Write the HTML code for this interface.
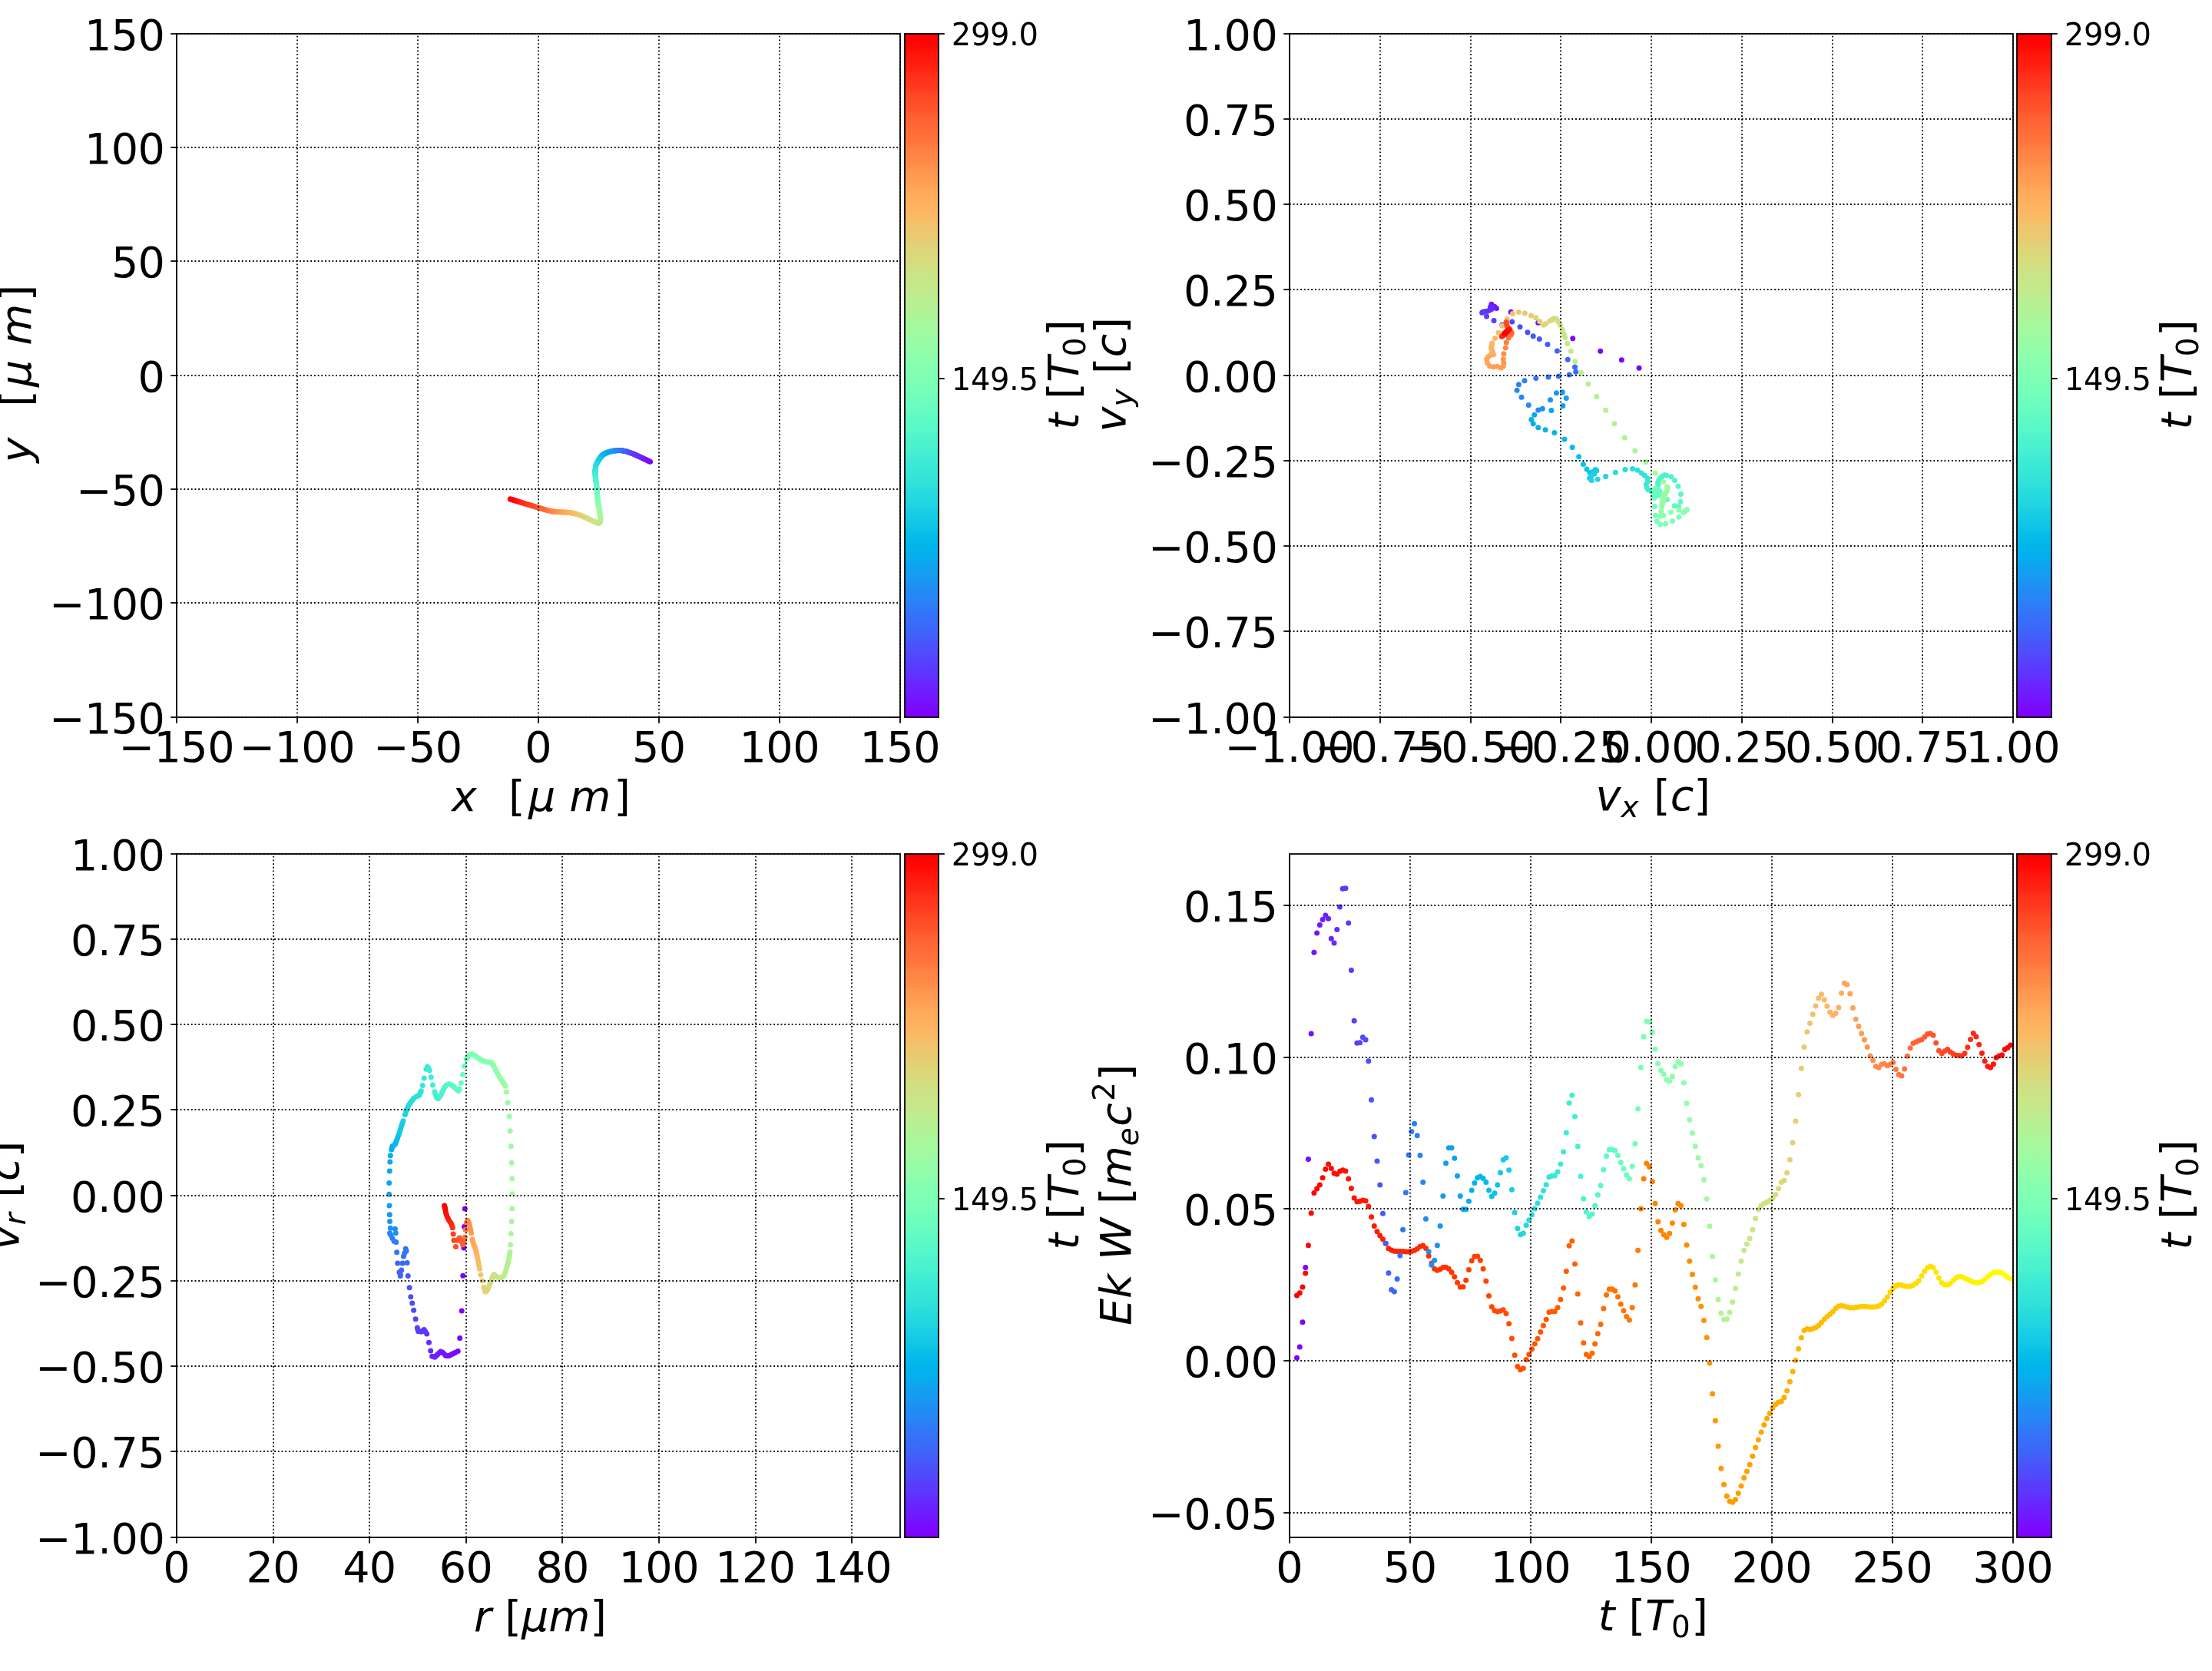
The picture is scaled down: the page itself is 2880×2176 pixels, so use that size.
<!DOCTYPE html>
<html lang="en"><head><meta charset="utf-8"><title>particle trajectory</title>
<style>html,body{margin:0;padding:0;background:#fff}svg{display:block;will-change:transform}text{font-family:'DejaVu Sans', 'Liberation Sans', sans-serif;fill:#000}</style>
</head><body>
<svg width="2880" height="2176" viewBox="0 0 2880 2176">
<rect width="2880" height="2176" fill="#fff"/>
<defs><linearGradient id="rb" x1="0" y1="1" x2="0" y2="0">
<stop offset="0" stop-color="#8000ff"/>
<stop offset="0.02" stop-color="#780dff"/>
<stop offset="0.03" stop-color="#7019ff"/>
<stop offset="0.05" stop-color="#6826fe"/>
<stop offset="0.06" stop-color="#6032fe"/>
<stop offset="0.08" stop-color="#583efd"/>
<stop offset="0.09" stop-color="#504afc"/>
<stop offset="0.11" stop-color="#4856fb"/>
<stop offset="0.12" stop-color="#4062fa"/>
<stop offset="0.14" stop-color="#386df9"/>
<stop offset="0.16" stop-color="#3079f7"/>
<stop offset="0.17" stop-color="#2884f6"/>
<stop offset="0.19" stop-color="#208ef4"/>
<stop offset="0.2" stop-color="#1898f2"/>
<stop offset="0.22" stop-color="#10a2f0"/>
<stop offset="0.23" stop-color="#08acee"/>
<stop offset="0.25" stop-color="#00b5eb"/>
<stop offset="0.27" stop-color="#08bee9"/>
<stop offset="0.28" stop-color="#10c6e6"/>
<stop offset="0.3" stop-color="#18cde4"/>
<stop offset="0.31" stop-color="#20d5e1"/>
<stop offset="0.33" stop-color="#28dbde"/>
<stop offset="0.34" stop-color="#30e1da"/>
<stop offset="0.36" stop-color="#38e7d7"/>
<stop offset="0.38" stop-color="#40ecd4"/>
<stop offset="0.39" stop-color="#48f1d0"/>
<stop offset="0.41" stop-color="#50f4cc"/>
<stop offset="0.42" stop-color="#58f8c9"/>
<stop offset="0.44" stop-color="#60fac5"/>
<stop offset="0.45" stop-color="#68fcc1"/>
<stop offset="0.47" stop-color="#70febc"/>
<stop offset="0.48" stop-color="#78ffb8"/>
<stop offset="0.5" stop-color="#80ffb4"/>
<stop offset="0.52" stop-color="#88ffaf"/>
<stop offset="0.53" stop-color="#90feab"/>
<stop offset="0.55" stop-color="#99fca6"/>
<stop offset="0.56" stop-color="#a0faa1"/>
<stop offset="0.58" stop-color="#a8f79c"/>
<stop offset="0.59" stop-color="#b0f397"/>
<stop offset="0.61" stop-color="#b9ef92"/>
<stop offset="0.62" stop-color="#c0eb8d"/>
<stop offset="0.64" stop-color="#c8e688"/>
<stop offset="0.66" stop-color="#d0e082"/>
<stop offset="0.67" stop-color="#d9da7d"/>
<stop offset="0.69" stop-color="#e0d377"/>
<stop offset="0.7" stop-color="#e8cb72"/>
<stop offset="0.72" stop-color="#f0c46c"/>
<stop offset="0.73" stop-color="#f9bb66"/>
<stop offset="0.75" stop-color="#ffb360"/>
<stop offset="0.77" stop-color="#ffa95b"/>
<stop offset="0.78" stop-color="#ffa055"/>
<stop offset="0.8" stop-color="#ff964f"/>
<stop offset="0.81" stop-color="#ff8c49"/>
<stop offset="0.83" stop-color="#ff8143"/>
<stop offset="0.84" stop-color="#ff763d"/>
<stop offset="0.86" stop-color="#ff6b37"/>
<stop offset="0.88" stop-color="#ff5f30"/>
<stop offset="0.89" stop-color="#ff532a"/>
<stop offset="0.91" stop-color="#ff4724"/>
<stop offset="0.92" stop-color="#ff3b1e"/>
<stop offset="0.94" stop-color="#ff2f18"/>
<stop offset="0.95" stop-color="#ff2211"/>
<stop offset="0.97" stop-color="#ff160b"/>
<stop offset="0.98" stop-color="#ff0905"/>
<stop offset="1" stop-color="#ff0000"/>
</linearGradient>
<clipPath id="c1"><rect x="230" y="44" width="942" height="890"/></clipPath>
<clipPath id="c2"><rect x="1679" y="44" width="942" height="890"/></clipPath>
<clipPath id="c3"><rect x="230" y="1112" width="942" height="890"/></clipPath>
<clipPath id="c4"><rect x="1679" y="1112" width="942" height="890"/></clipPath>
</defs>
<g clip-path="url(#c1)">
<circle cx="846.53" cy="601.31" r="3.5" fill="#8000ff"/>
<circle cx="845.27" cy="600.7" r="3.5" fill="#7e03ff"/>
<circle cx="844" cy="600.09" r="3.5" fill="#7c06ff"/>
<circle cx="842.74" cy="599.48" r="3.5" fill="#7a09ff"/>
<circle cx="841.47" cy="598.87" r="3.5" fill="#780dff"/>
<circle cx="840.21" cy="598.26" r="3.5" fill="#7610ff"/>
<circle cx="838.95" cy="597.65" r="3.5" fill="#7413ff"/>
<circle cx="837.65" cy="597.04" r="3.5" fill="#7216ff"/>
<circle cx="836.34" cy="596.43" r="3.5" fill="#7019ff"/>
<circle cx="835.04" cy="595.82" r="3.5" fill="#6e1cff"/>
<circle cx="833.73" cy="595.21" r="3.5" fill="#6c1fff"/>
<circle cx="832.42" cy="594.6" r="3.5" fill="#6a22fe"/>
<circle cx="831.11" cy="593.99" r="3.5" fill="#6826fe"/>
<circle cx="829.93" cy="593.46" r="3.5" fill="#6629fe"/>
<circle cx="828.84" cy="592.98" r="3.5" fill="#642cfe"/>
<circle cx="827.75" cy="592.51" r="3.5" fill="#622ffe"/>
<circle cx="826.66" cy="592.04" r="3.5" fill="#6032fe"/>
<circle cx="825.57" cy="591.57" r="3.5" fill="#5e35fe"/>
<circle cx="824.48" cy="591.1" r="3.5" fill="#5c38fd"/>
<circle cx="823.39" cy="590.62" r="3.5" fill="#5a3bfd"/>
<circle cx="822.3" cy="590.16" r="3.5" fill="#583efd"/>
<circle cx="821.21" cy="589.8" r="3.5" fill="#5641fd"/>
<circle cx="820.12" cy="589.43" r="3.5" fill="#5444fd"/>
<circle cx="819.03" cy="589.07" r="3.5" fill="#5247fc"/>
<circle cx="817.94" cy="588.71" r="3.5" fill="#504afc"/>
<circle cx="816.85" cy="588.35" r="3.5" fill="#4e4dfc"/>
<circle cx="815.76" cy="587.98" r="3.5" fill="#4c50fc"/>
<circle cx="814.68" cy="587.62" r="3.5" fill="#4a53fb"/>
<circle cx="813.72" cy="587.4" r="3.5" fill="#4856fb"/>
<circle cx="812.85" cy="587.27" r="3.5" fill="#4659fb"/>
<circle cx="811.98" cy="587.14" r="3.5" fill="#445cfb"/>
<circle cx="811.1" cy="587.01" r="3.5" fill="#425ffa"/>
<circle cx="810.23" cy="586.87" r="3.5" fill="#4062fa"/>
<circle cx="809.36" cy="586.74" r="3.5" fill="#3e65fa"/>
<circle cx="808.49" cy="586.65" r="3.5" fill="#3c68f9"/>
<circle cx="807.62" cy="586.62" r="3.5" fill="#396bf9"/>
<circle cx="806.75" cy="586.59" r="3.5" fill="#3670f8"/>
<circle cx="805.88" cy="586.55" r="3.5" fill="#3473f8"/>
<circle cx="805" cy="586.52" r="3.5" fill="#3176f8"/>
<circle cx="804.13" cy="586.54" r="3.5" fill="#3079f7"/>
<circle cx="803.26" cy="586.63" r="3.5" fill="#2e7bf7"/>
<circle cx="802.39" cy="586.73" r="3.5" fill="#2c7ef7"/>
<circle cx="801.52" cy="586.82" r="3.5" fill="#2981f6"/>
<circle cx="800.65" cy="586.92" r="3.5" fill="#2884f6"/>
<circle cx="799.78" cy="587.01" r="3.5" fill="#2686f5"/>
<circle cx="798.9" cy="587.11" r="3.5" fill="#2489f5"/>
<circle cx="798.03" cy="587.2" r="3.5" fill="#218cf4"/>
<circle cx="797.16" cy="587.41" r="3.5" fill="#208ef4"/>
<circle cx="796.29" cy="587.63" r="3.5" fill="#1e91f3"/>
<circle cx="795.42" cy="587.85" r="3.5" fill="#1c93f3"/>
<circle cx="794.55" cy="588.06" r="3.5" fill="#1996f3"/>
<circle cx="793.67" cy="588.28" r="3.5" fill="#1898f2"/>
<circle cx="792.8" cy="588.5" r="3.5" fill="#169bf2"/>
<circle cx="791.93" cy="588.81" r="3.5" fill="#149df1"/>
<circle cx="791.06" cy="589.16" r="3.5" fill="#11a0f1"/>
<circle cx="790.19" cy="589.51" r="3.5" fill="#10a2f0"/>
<circle cx="789.32" cy="589.86" r="3.5" fill="#0ea5ef"/>
<circle cx="788.45" cy="590.2" r="3.5" fill="#0ca7ef"/>
<circle cx="787.57" cy="590.55" r="3.5" fill="#09a9ee"/>
<circle cx="786.81" cy="590.94" r="3.5" fill="#08acee"/>
<circle cx="786.15" cy="591.38" r="3.5" fill="#06aeed"/>
<circle cx="785.5" cy="591.82" r="3.5" fill="#04b0ed"/>
<circle cx="784.85" cy="592.25" r="3.5" fill="#01b3ec"/>
<circle cx="784.19" cy="592.69" r="3.5" fill="#00b5eb"/>
<circle cx="783.58" cy="593.27" r="3.5" fill="#02b7eb"/>
<circle cx="783" cy="594" r="3.5" fill="#04b9ea"/>
<circle cx="782.41" cy="594.72" r="3.5" fill="#07bbea"/>
<circle cx="781.83" cy="595.45" r="3.5" fill="#08bee9"/>
<circle cx="781.36" cy="596.12" r="3.5" fill="#0ac0e8"/>
<circle cx="780.93" cy="596.77" r="3.5" fill="#0dc2e8"/>
<circle cx="780.49" cy="597.43" r="3.5" fill="#0fc4e7"/>
<circle cx="780.06" cy="598.08" r="3.5" fill="#10c6e6"/>
<circle cx="779.62" cy="598.73" r="3.5" fill="#14cae5"/>
<circle cx="779.19" cy="599.47" r="3.5" fill="#17cbe4"/>
<circle cx="778.75" cy="600.24" r="3.5" fill="#18cde4"/>
<circle cx="778.31" cy="601" r="3.5" fill="#1acfe3"/>
<circle cx="777.88" cy="601.76" r="3.5" fill="#1dd1e2"/>
<circle cx="777.44" cy="602.52" r="3.5" fill="#1fd3e1"/>
<circle cx="777.1" cy="603.29" r="3.5" fill="#20d5e1"/>
<circle cx="776.77" cy="604.05" r="3.5" fill="#22d6e0"/>
<circle cx="776.44" cy="604.81" r="3.5" fill="#24d8df"/>
<circle cx="776.12" cy="605.57" r="3.5" fill="#27dade"/>
<circle cx="775.79" cy="606.34" r="3.5" fill="#28dbde"/>
<circle cx="775.3" cy="609" r="3.5" fill="#2adddd"/>
<circle cx="775.06" cy="610.71" r="3.5" fill="#2ddedc"/>
<circle cx="775.03" cy="611.47" r="3.5" fill="#2fe0db"/>
<circle cx="775" cy="612.23" r="3.5" fill="#30e1da"/>
<circle cx="774.96" cy="613" r="3.5" fill="#32e3da"/>
<circle cx="774.93" cy="613.76" r="3.5" fill="#34e4d9"/>
<circle cx="774.92" cy="614.59" r="3.5" fill="#37e6d8"/>
<circle cx="774.92" cy="615.46" r="3.5" fill="#38e7d7"/>
<circle cx="774.92" cy="616.33" r="3.5" fill="#3ae8d6"/>
<circle cx="774.92" cy="617.2" r="3.5" fill="#3dead5"/>
<circle cx="774.92" cy="618.07" r="3.5" fill="#3febd5"/>
<circle cx="775.01" cy="619.24" r="3.5" fill="#40ecd4"/>
<circle cx="775.15" cy="620.57" r="3.5" fill="#42edd3"/>
<circle cx="775.29" cy="621.91" r="3.5" fill="#44eed2"/>
<circle cx="775.43" cy="623.24" r="3.5" fill="#46efd1"/>
<circle cx="775.59" cy="624.36" r="3.5" fill="#48f1d0"/>
<circle cx="775.76" cy="625.45" r="3.5" fill="#4af2cf"/>
<circle cx="775.92" cy="626.54" r="3.5" fill="#4df3ce"/>
<circle cx="776.08" cy="627.63" r="3.5" fill="#4ef3cd"/>
<circle cx="776.25" cy="628.72" r="3.5" fill="#50f4cc"/>
<circle cx="776.41" cy="629.81" r="3.5" fill="#52f5cb"/>
<circle cx="776.54" cy="630.9" r="3.5" fill="#54f6cb"/>
<circle cx="776.65" cy="631.99" r="3.5" fill="#56f7ca"/>
<circle cx="776.76" cy="633.07" r="3.5" fill="#58f8c9"/>
<circle cx="776.87" cy="634.16" r="3.5" fill="#5df9c7"/>
<circle cx="776.97" cy="635.25" r="3.5" fill="#5efac6"/>
<circle cx="777.08" cy="636.34" r="3.5" fill="#60fac5"/>
<circle cx="777.18" cy="637.35" r="3.5" fill="#62fbc4"/>
<circle cx="777.28" cy="638.26" r="3.5" fill="#64fbc3"/>
<circle cx="777.37" cy="639.17" r="3.5" fill="#66fcc2"/>
<circle cx="777.46" cy="640.08" r="3.5" fill="#68fcc1"/>
<circle cx="777.52" cy="641.11" r="3.5" fill="#6afdc0"/>
<circle cx="777.58" cy="642.2" r="3.5" fill="#6dfdbf"/>
<circle cx="777.63" cy="643.29" r="3.5" fill="#6efebe"/>
<circle cx="777.69" cy="644.38" r="3.5" fill="#70febc"/>
<circle cx="777.74" cy="645.47" r="3.5" fill="#72febb"/>
<circle cx="777.79" cy="646.56" r="3.5" fill="#74feba"/>
<circle cx="777.87" cy="647.65" r="3.5" fill="#76ffb9"/>
<circle cx="777.98" cy="648.74" r="3.5" fill="#78ffb8"/>
<circle cx="778.09" cy="649.83" r="3.5" fill="#7affb7"/>
<circle cx="778.2" cy="650.92" r="3.5" fill="#7dffb6"/>
<circle cx="778.31" cy="652" r="3.5" fill="#7effb5"/>
<circle cx="778.42" cy="653.09" r="3.5" fill="#80ffb4"/>
<circle cx="778.55" cy="654.14" r="3.5" fill="#82ffb3"/>
<circle cx="778.73" cy="655.04" r="3.5" fill="#84ffb2"/>
<circle cx="778.91" cy="655.95" r="3.5" fill="#86ffb0"/>
<circle cx="779.09" cy="656.86" r="3.5" fill="#88ffaf"/>
<circle cx="779.27" cy="657.77" r="3.5" fill="#8bfeae"/>
<circle cx="779.45" cy="658.68" r="3.5" fill="#8cfead"/>
<circle cx="779.64" cy="659.58" r="3.5" fill="#8efeac"/>
<circle cx="779.82" cy="660.49" r="3.5" fill="#90feab"/>
<circle cx="779.99" cy="661.54" r="3.5" fill="#92fda9"/>
<circle cx="780.15" cy="662.63" r="3.5" fill="#94fda8"/>
<circle cx="780.31" cy="663.72" r="3.5" fill="#96fca7"/>
<circle cx="780.48" cy="664.81" r="3.5" fill="#99fca6"/>
<circle cx="780.64" cy="665.9" r="3.5" fill="#9bfba5"/>
<circle cx="780.8" cy="666.99" r="3.5" fill="#9cfba4"/>
<circle cx="780.95" cy="668.08" r="3.5" fill="#9efaa2"/>
<circle cx="781.09" cy="669.17" r="3.5" fill="#a0faa1"/>
<circle cx="781.22" cy="670.26" r="3.5" fill="#a2f9a0"/>
<circle cx="781.36" cy="671.35" r="3.5" fill="#a6f89d"/>
<circle cx="781.49" cy="672.43" r="3.5" fill="#a8f79c"/>
<circle cx="781.6" cy="673.52" r="3.5" fill="#abf69b"/>
<circle cx="781.7" cy="674.61" r="3.5" fill="#acf59a"/>
<circle cx="781.79" cy="675.7" r="3.5" fill="#aef498"/>
<circle cx="781.88" cy="676.79" r="3.5" fill="#b0f397"/>
<circle cx="781.78" cy="677.88" r="3.5" fill="#b2f396"/>
<circle cx="781.64" cy="678.97" r="3.5" fill="#b4f295"/>
<circle cx="781.36" cy="679.83" r="3.5" fill="#b6f193"/>
<circle cx="780.81" cy="680.29" r="3.5" fill="#b9ef92"/>
<circle cx="780.27" cy="680.74" r="3.5" fill="#bbee91"/>
<circle cx="779.72" cy="681.2" r="3.5" fill="#bced8f"/>
<circle cx="778.84" cy="681.17" r="3.5" fill="#beec8e"/>
<circle cx="777.75" cy="680.84" r="3.5" fill="#c0eb8d"/>
<circle cx="776.64" cy="680.48" r="3.5" fill="#c2ea8c"/>
<circle cx="775.37" cy="679.92" r="3.5" fill="#c4e88a"/>
<circle cx="774.1" cy="679.36" r="3.5" fill="#c6e789"/>
<circle cx="772.83" cy="678.79" r="3.5" fill="#c8e688"/>
<circle cx="771.52" cy="678.2" r="3.5" fill="#cbe486"/>
<circle cx="770.16" cy="677.56" r="3.5" fill="#cce385"/>
<circle cx="768.8" cy="676.92" r="3.5" fill="#cee184"/>
<circle cx="767.44" cy="676.28" r="3.5" fill="#d0e082"/>
<circle cx="766.07" cy="675.64" r="3.5" fill="#d2de81"/>
<circle cx="764.71" cy="675.01" r="3.5" fill="#d4dd80"/>
<circle cx="763.35" cy="674.4" r="3.5" fill="#d6db7e"/>
<circle cx="761.99" cy="673.79" r="3.5" fill="#d9da7d"/>
<circle cx="760.63" cy="673.17" r="3.5" fill="#dbd87b"/>
<circle cx="759.27" cy="672.56" r="3.5" fill="#dcd67a"/>
<circle cx="757.9" cy="671.99" r="3.5" fill="#ded579"/>
<circle cx="756.54" cy="671.47" r="3.5" fill="#e0d377"/>
<circle cx="755.18" cy="670.95" r="3.5" fill="#e2d176"/>
<circle cx="753.82" cy="670.44" r="3.5" fill="#e4cf74"/>
<circle cx="752.46" cy="669.92" r="3.5" fill="#e6cd73"/>
<circle cx="751.22" cy="669.52" r="3.5" fill="#e8cb72"/>
<circle cx="750.13" cy="669.26" r="3.5" fill="#ebca70"/>
<circle cx="749.04" cy="669" r="3.5" fill="#eec66d"/>
<circle cx="747.95" cy="668.73" r="3.5" fill="#f0c46c"/>
<circle cx="746.86" cy="668.47" r="3.5" fill="#f2c26b"/>
<circle cx="745.77" cy="668.21" r="3.5" fill="#f4c069"/>
<circle cx="744.68" cy="667.98" r="3.5" fill="#f6be68"/>
<circle cx="743.59" cy="667.84" r="3.5" fill="#f9bb66"/>
<circle cx="742.51" cy="667.69" r="3.5" fill="#fbb965"/>
<circle cx="741.42" cy="667.55" r="3.5" fill="#fcb763"/>
<circle cx="740.33" cy="667.41" r="3.5" fill="#feb562"/>
<circle cx="739.24" cy="667.27" r="3.5" fill="#ffb360"/>
<circle cx="738.15" cy="667.13" r="3.5" fill="#ffb05f"/>
<circle cx="736.79" cy="667.09" r="3.5" fill="#ffae5e"/>
<circle cx="735.42" cy="667.05" r="3.5" fill="#ffac5c"/>
<circle cx="734.06" cy="667.01" r="3.5" fill="#ffa95b"/>
<circle cx="732.7" cy="666.96" r="3.5" fill="#ffa759"/>
<circle cx="731.34" cy="666.92" r="3.5" fill="#ffa558"/>
<circle cx="729.98" cy="666.87" r="3.5" fill="#ffa256"/>
<circle cx="728.62" cy="666.81" r="3.5" fill="#ffa055"/>
<circle cx="727.25" cy="666.76" r="3.5" fill="#ff9d53"/>
<circle cx="725.89" cy="666.71" r="3.5" fill="#ff9b52"/>
<circle cx="724.54" cy="666.65" r="3.5" fill="#ff9850"/>
<circle cx="723.45" cy="666.51" r="3.5" fill="#ff964f"/>
<circle cx="722.36" cy="666.36" r="3.5" fill="#ff934d"/>
<circle cx="721.27" cy="666.22" r="3.5" fill="#ff914c"/>
<circle cx="720.19" cy="666.08" r="3.5" fill="#ff8e4a"/>
<circle cx="719.1" cy="665.94" r="3.5" fill="#ff8c49"/>
<circle cx="718.01" cy="665.8" r="3.5" fill="#ff8947"/>
<circle cx="716.92" cy="665.55" r="3.5" fill="#ff8646"/>
<circle cx="715.83" cy="665.28" r="3.5" fill="#ff8444"/>
<circle cx="714.74" cy="665" r="3.5" fill="#ff8143"/>
<circle cx="713.65" cy="664.73" r="3.5" fill="#ff7e41"/>
<circle cx="712.56" cy="664.46" r="3.5" fill="#ff7b40"/>
<circle cx="711.47" cy="664.19" r="3.5" fill="#ff793e"/>
<circle cx="710.22" cy="663.83" r="3.5" fill="#ff763d"/>
<circle cx="708.86" cy="663.43" r="3.5" fill="#ff733b"/>
<circle cx="707.5" cy="663.02" r="3.5" fill="#ff703a"/>
<circle cx="706.13" cy="662.61" r="3.5" fill="#ff6b37"/>
<circle cx="704.77" cy="662.2" r="3.5" fill="#ff6835"/>
<circle cx="703.41" cy="661.79" r="3.5" fill="#ff6533"/>
<circle cx="702.05" cy="661.38" r="3.5" fill="#ff6232"/>
<circle cx="700.69" cy="660.97" r="3.5" fill="#ff5f30"/>
<circle cx="699.33" cy="660.57" r="3.5" fill="#ff5c2f"/>
<circle cx="697.96" cy="660.16" r="3.5" fill="#ff592d"/>
<circle cx="696.6" cy="659.75" r="3.5" fill="#ff562c"/>
<circle cx="695.24" cy="659.34" r="3.5" fill="#ff532a"/>
<circle cx="693.88" cy="658.93" r="3.5" fill="#ff5029"/>
<circle cx="692.52" cy="658.52" r="3.5" fill="#ff4d27"/>
<circle cx="691.16" cy="658.11" r="3.5" fill="#ff4a26"/>
<circle cx="689.79" cy="657.71" r="3.5" fill="#ff4724"/>
<circle cx="688.43" cy="657.3" r="3.5" fill="#ff4422"/>
<circle cx="687.07" cy="656.89" r="3.5" fill="#ff4121"/>
<circle cx="685.71" cy="656.48" r="3.5" fill="#ff3e1f"/>
<circle cx="684.35" cy="656.07" r="3.5" fill="#ff3b1e"/>
<circle cx="682.99" cy="655.66" r="3.5" fill="#ff381c"/>
<circle cx="681.62" cy="655.26" r="3.5" fill="#ff351b"/>
<circle cx="680.26" cy="654.85" r="3.5" fill="#ff3219"/>
<circle cx="678.9" cy="654.44" r="3.5" fill="#ff2f18"/>
<circle cx="677.54" cy="654.03" r="3.5" fill="#ff2c16"/>
<circle cx="676.47" cy="653.7" r="3.5" fill="#ff2914"/>
<circle cx="675.53" cy="653.4" r="3.5" fill="#ff2613"/>
<circle cx="674.59" cy="653.1" r="3.5" fill="#ff2211"/>
<circle cx="673.65" cy="652.81" r="3.5" fill="#ff1f10"/>
<circle cx="672.71" cy="652.51" r="3.5" fill="#ff1c0e"/>
<circle cx="671.77" cy="652.21" r="3.5" fill="#ff190d"/>
<circle cx="670.83" cy="651.92" r="3.5" fill="#ff160b"/>
<circle cx="669.88" cy="651.62" r="3.5" fill="#ff1309"/>
<circle cx="668.94" cy="651.32" r="3.5" fill="#ff1008"/>
<circle cx="668" cy="651.02" r="3.5" fill="#ff0d06"/>
<circle cx="667.06" cy="650.73" r="3.5" fill="#ff0905"/>
<circle cx="666.12" cy="650.43" r="3.5" fill="#ff0603"/>
<circle cx="665.18" cy="650.13" r="3.5" fill="#ff0302"/>
<circle cx="664.24" cy="649.84" r="3.5" fill="#ff0000"/>
</g>
<g stroke="#000" stroke-width="1.78" stroke-dasharray="1.78 2.93" fill="none">
<path d="M230 934V44"/>
<path d="M387 934V44"/>
<path d="M544 934V44"/>
<path d="M701 934V44"/>
<path d="M858 934V44"/>
<path d="M1015 934V44"/>
<path d="M1172 934V44"/>
<path d="M230 934H1172"/>
<path d="M230 785H1172"/>
<path d="M230 637H1172"/>
<path d="M230 489H1172"/>
<path d="M230 340H1172"/>
<path d="M230 192H1172"/>
<path d="M230 44H1172"/>
</g>
<g stroke="#000" stroke-width="1.78" fill="none">
<path d="M230 934v7.78"/>
<path d="M387 934v7.78"/>
<path d="M544 934v7.78"/>
<path d="M701 934v7.78"/>
<path d="M858 934v7.78"/>
<path d="M1015 934v7.78"/>
<path d="M1172 934v7.78"/>
<path d="M230 934h-7.78"/>
<path d="M230 785h-7.78"/>
<path d="M230 637h-7.78"/>
<path d="M230 489h-7.78"/>
<path d="M230 340h-7.78"/>
<path d="M230 192h-7.78"/>
<path d="M230 44h-7.78"/>
<rect x="230" y="44" width="942" height="890"/>
</g>
<g font-size="55.56" text-anchor="middle">
<text x="230" y="991.78" textLength="151">−150</text>
<text x="387" y="991.78" textLength="151">−100</text>
<text x="544" y="991.78" textLength="116">−50</text>
<text x="701" y="991.78" textLength="35">0</text>
<text x="858" y="991.78" textLength="70">50</text>
<text x="1015" y="991.78" textLength="105">100</text>
<text x="1172" y="991.78" textLength="105">150</text>
</g>
<g font-size="55.56" text-anchor="end">
<text x="214.94" y="954.71" textLength="151">−150</text>
<text x="214.94" y="806.38" textLength="151">−100</text>
<text x="214.94" y="658.04" textLength="116">−50</text>
<text x="214.94" y="509.71" textLength="35">0</text>
<text x="214.94" y="361.38" textLength="70">50</text>
<text x="214.94" y="213.04" textLength="105">100</text>
<text x="214.94" y="64.71" textLength="105">150</text>
</g>
<rect x="1178" y="44" width="44" height="890" fill="url(#rb)" stroke="#000" stroke-width="1.78"/>
<g stroke="#000" stroke-width="1.78"><path d="M1222 44h7.78"/><path d="M1222 493h7.78"/></g>
<g font-size="40"><text x="1238.86" y="58.8" textLength="113">299.0</text><text x="1238.86" y="508.31" textLength="113">149.5</text></g>
<g clip-path="url(#c2)">
<circle cx="2134.07" cy="479.23" r="3.5" fill="#8000ff"/>
<circle cx="2111.36" cy="468.77" r="3.5" fill="#7e03ff"/>
<circle cx="2083.7" cy="457.31" r="3.5" fill="#7c06ff"/>
<circle cx="2047.75" cy="440.72" r="3.5" fill="#7a09ff"/>
<circle cx="2002.72" cy="420.37" r="3.5" fill="#780dff"/>
<circle cx="1967.16" cy="406.15" r="3.5" fill="#7610ff"/>
<circle cx="1948.4" cy="401.6" r="3.5" fill="#7413ff"/>
<circle cx="1945.83" cy="399.23" r="3.5" fill="#7216ff"/>
<circle cx="1941.88" cy="396.27" r="3.5" fill="#7019ff"/>
<circle cx="1943.85" cy="400.02" r="3.5" fill="#6c1fff"/>
<circle cx="1940.49" cy="399.63" r="3.5" fill="#6a22fe"/>
<circle cx="1941.88" cy="402.59" r="3.5" fill="#6826fe"/>
<circle cx="1939.11" cy="403.98" r="3.5" fill="#642cfe"/>
<circle cx="1936.54" cy="405.16" r="3.5" fill="#622ffe"/>
<circle cx="1933.58" cy="405.56" r="3.5" fill="#6032fe"/>
<circle cx="1930.62" cy="406.15" r="3.5" fill="#5e35fe"/>
<circle cx="1929.63" cy="407.14" r="3.5" fill="#5a3bfd"/>
<circle cx="1935.56" cy="411.88" r="3.5" fill="#583efd"/>
<circle cx="1945.04" cy="417.41" r="3.5" fill="#5641fd"/>
<circle cx="1955.9" cy="422.94" r="3.5" fill="#5247fc"/>
<circle cx="1968.74" cy="418.99" r="3.5" fill="#504afc"/>
<circle cx="1979.01" cy="425.7" r="3.5" fill="#4e4dfc"/>
<circle cx="1988.89" cy="432.81" r="3.5" fill="#4c50fc"/>
<circle cx="1996.2" cy="437.75" r="3.5" fill="#4856fb"/>
<circle cx="2004.3" cy="441.51" r="3.5" fill="#4659fb"/>
<circle cx="2014.96" cy="448.42" r="3.5" fill="#445cfb"/>
<circle cx="2027.41" cy="456.91" r="3.5" fill="#4062fa"/>
<circle cx="2041.23" cy="468.17" r="3.5" fill="#3e65fa"/>
<circle cx="2050.52" cy="478.05" r="3.5" fill="#3c68f9"/>
<circle cx="2051.7" cy="484.17" r="3.5" fill="#396bf9"/>
<circle cx="2043.21" cy="488.12" r="3.5" fill="#3670f8"/>
<circle cx="2029.38" cy="489.9" r="3.5" fill="#3473f8"/>
<circle cx="2015.95" cy="490.89" r="3.5" fill="#3176f8"/>
<circle cx="1999.75" cy="492.47" r="3.5" fill="#3079f7"/>
<circle cx="1984.94" cy="495.63" r="3.5" fill="#2c7ef7"/>
<circle cx="1977.43" cy="500.77" r="3.5" fill="#2981f6"/>
<circle cx="1975.06" cy="508.27" r="3.5" fill="#2884f6"/>
<circle cx="1980.99" cy="517.36" r="3.5" fill="#2489f5"/>
<circle cx="1990.27" cy="527.43" r="3.5" fill="#218cf4"/>
<circle cx="2002.72" cy="533.95" r="3.5" fill="#208ef4"/>
<circle cx="2008.25" cy="532.37" r="3.5" fill="#1e91f3"/>
<circle cx="2018.52" cy="520.72" r="3.5" fill="#1996f3"/>
<circle cx="2026.42" cy="511.63" r="3.5" fill="#1898f2"/>
<circle cx="2034.32" cy="510.84" r="3.5" fill="#169bf2"/>
<circle cx="2039.26" cy="518.54" r="3.5" fill="#11a0f1"/>
<circle cx="2034.91" cy="528.62" r="3.5" fill="#10a2f0"/>
<circle cx="2019.9" cy="534.54" r="3.5" fill="#0ea5ef"/>
<circle cx="1997.78" cy="540.27" r="3.5" fill="#0ca7ef"/>
<circle cx="1993.83" cy="546.4" r="3.5" fill="#08acee"/>
<circle cx="1996.2" cy="551.73" r="3.5" fill="#06aeed"/>
<circle cx="2002.72" cy="556.67" r="3.5" fill="#04b0ed"/>
<circle cx="2012" cy="559.63" r="3.5" fill="#00b5eb"/>
<circle cx="2023.85" cy="563.58" r="3.5" fill="#02b7eb"/>
<circle cx="2036.89" cy="571.88" r="3.5" fill="#04b9ea"/>
<circle cx="2047.16" cy="582.54" r="3.5" fill="#07bbea"/>
<circle cx="2055.65" cy="594.79" r="3.5" fill="#0ac0e8"/>
<circle cx="2061.38" cy="604.47" r="3.5" fill="#0dc2e8"/>
<circle cx="2065.93" cy="610.99" r="3.5" fill="#0fc4e7"/>
<circle cx="2069.88" cy="615.53" r="3.5" fill="#10c6e6"/>
<circle cx="2073.83" cy="614.54" r="3.5" fill="#12c8e6"/>
<circle cx="2077.38" cy="611.38" r="3.5" fill="#14cae5"/>
<circle cx="2078.77" cy="612.96" r="3.5" fill="#17cbe4"/>
<circle cx="2075.8" cy="616.91" r="3.5" fill="#18cde4"/>
<circle cx="2071.85" cy="619.28" r="3.5" fill="#1acfe3"/>
<circle cx="2069.48" cy="622.84" r="3.5" fill="#1dd1e2"/>
<circle cx="2072.25" cy="625.41" r="3.5" fill="#1fd3e1"/>
<circle cx="2080.15" cy="624.22" r="3.5" fill="#20d5e1"/>
<circle cx="2090.62" cy="620.47" r="3.5" fill="#22d6e0"/>
<circle cx="2103.46" cy="615.33" r="3.5" fill="#27dade"/>
<circle cx="2115.9" cy="611.58" r="3.5" fill="#28dbde"/>
<circle cx="2125.58" cy="610.59" r="3.5" fill="#2adddd"/>
<circle cx="2132.1" cy="612.17" r="3.5" fill="#2fe0db"/>
<circle cx="2137.04" cy="615.93" r="3.5" fill="#30e1da"/>
<circle cx="2141.38" cy="619.28" r="3.5" fill="#32e3da"/>
<circle cx="2144.94" cy="622.84" r="3.5" fill="#34e4d9"/>
<circle cx="2145.33" cy="626.79" r="3.5" fill="#38e7d7"/>
<circle cx="2143.36" cy="630.74" r="3.5" fill="#3ae8d6"/>
<circle cx="2143.95" cy="634.69" r="3.5" fill="#3dead5"/>
<circle cx="2145.93" cy="637.65" r="3.5" fill="#40ecd4"/>
<circle cx="2149.88" cy="639.63" r="3.5" fill="#42edd3"/>
<circle cx="2153.83" cy="639.04" r="3.5" fill="#44eed2"/>
<circle cx="2156.79" cy="635.68" r="3.5" fill="#46efd1"/>
<circle cx="2158.77" cy="628.77" r="3.5" fill="#4af2cf"/>
<circle cx="2162.72" cy="622.84" r="3.5" fill="#4df3ce"/>
<circle cx="2169.63" cy="619.28" r="3.5" fill="#4ef3cd"/>
<circle cx="2158.9" cy="631.72" r="3.5" fill="#4ef3cd"/>
<circle cx="2158.6" cy="628.73" r="3.5" fill="#4ef3cd"/>
<circle cx="2159.8" cy="625.13" r="3.5" fill="#4ef3cd"/>
<circle cx="2161.89" cy="622.14" r="3.5" fill="#4ef3cd"/>
<circle cx="2164.58" cy="620.05" r="3.5" fill="#4ef3cd"/>
<circle cx="2167.28" cy="618.55" r="3.5" fill="#4ef3cd"/>
<circle cx="2175.95" cy="620.86" r="3.5" fill="#50f4cc"/>
<circle cx="2180.49" cy="625.41" r="3.5" fill="#54f6cb"/>
<circle cx="2185.04" cy="633.31" r="3.5" fill="#56f7ca"/>
<circle cx="2188.4" cy="643.58" r="3.5" fill="#58f8c9"/>
<circle cx="2188" cy="653.46" r="3.5" fill="#5df9c7"/>
<circle cx="2185.43" cy="659.78" r="3.5" fill="#5efac6"/>
<circle cx="2180.1" cy="658.79" r="3.5" fill="#60fac5"/>
<circle cx="2170.62" cy="650.49" r="3.5" fill="#62fbc4"/>
<circle cx="2162.72" cy="644.57" r="3.5" fill="#66fcc2"/>
<circle cx="2157.78" cy="641.6" r="3.5" fill="#68fcc1"/>
<circle cx="2153.51" cy="638.3" r="3.5" fill="#68fcc1"/>
<circle cx="2155.91" cy="635.91" r="3.5" fill="#68fcc1"/>
<circle cx="2158.3" cy="637.1" r="3.5" fill="#68fcc1"/>
<circle cx="2160.69" cy="638.9" r="3.5" fill="#68fcc1"/>
<circle cx="2157.1" cy="641.89" r="3.5" fill="#68fcc1"/>
<circle cx="2154.71" cy="644.28" r="3.5" fill="#68fcc1"/>
<circle cx="2152.62" cy="647.28" r="3.5" fill="#68fcc1"/>
<circle cx="2158.3" cy="645.48" r="3.5" fill="#68fcc1"/>
<circle cx="2161.29" cy="641.89" r="3.5" fill="#68fcc1"/>
<circle cx="2155.91" cy="640.1" r="3.5" fill="#68fcc1"/>
<circle cx="2159.5" cy="641.29" r="3.5" fill="#68fcc1"/>
<circle cx="2154.81" cy="644.57" r="3.5" fill="#6afdc0"/>
<circle cx="2153.83" cy="648.52" r="3.5" fill="#6efebe"/>
<circle cx="2154.22" cy="659.38" r="3.5" fill="#70febc"/>
<circle cx="2155.41" cy="671.23" r="3.5" fill="#72febb"/>
<circle cx="2157.38" cy="678.74" r="3.5" fill="#74feba"/>
<circle cx="2161.73" cy="683.09" r="3.5" fill="#78ffb8"/>
<circle cx="2168.64" cy="682.1" r="3.5" fill="#7affb7"/>
<circle cx="2177.53" cy="678.54" r="3.5" fill="#7dffb6"/>
<circle cx="2185.83" cy="673.21" r="3.5" fill="#80ffb4"/>
<circle cx="2191.95" cy="667.28" r="3.5" fill="#82ffb3"/>
<circle cx="2196.3" cy="663.73" r="3.5" fill="#84ffb2"/>
<circle cx="2194.32" cy="665.31" r="3.5" fill="#86ffb0"/>
<circle cx="2186.02" cy="664.32" r="3.5" fill="#8bfeae"/>
<circle cx="2175.56" cy="666.89" r="3.5" fill="#8cfead"/>
<circle cx="2165.68" cy="671.23" r="3.5" fill="#8efeac"/>
<circle cx="2161.73" cy="672.22" r="3.5" fill="#90feab"/>
<circle cx="2162.72" cy="666.3" r="3.5" fill="#94fda8"/>
<circle cx="2163.7" cy="660.37" r="3.5" fill="#96fca7"/>
<circle cx="2165.09" cy="654.44" r="3.5" fill="#99fca6"/>
<circle cx="2166.67" cy="648.52" r="3.5" fill="#9cfba4"/>
<circle cx="2170.57" cy="634.11" r="3.5" fill="#9cfba4"/>
<circle cx="2170.87" cy="637.1" r="3.5" fill="#9cfba4"/>
<circle cx="2169.97" cy="639.5" r="3.5" fill="#9cfba4"/>
<circle cx="2168.77" cy="641.89" r="3.5" fill="#9cfba4"/>
<circle cx="2167.28" cy="644.28" r="3.5" fill="#9cfba4"/>
<circle cx="2166.08" cy="646.68" r="3.5" fill="#9cfba4"/>
<circle cx="2165.18" cy="649.07" r="3.5" fill="#9cfba4"/>
<circle cx="2164.58" cy="651.47" r="3.5" fill="#9cfba4"/>
<circle cx="2164.28" cy="653.86" r="3.5" fill="#9cfba4"/>
<circle cx="2163.99" cy="656.55" r="3.5" fill="#9cfba4"/>
<circle cx="2168.25" cy="642.59" r="3.5" fill="#9efaa2"/>
<circle cx="2170.62" cy="634.1" r="3.5" fill="#a0faa1"/>
<circle cx="2165.68" cy="627.38" r="3.5" fill="#a2f9a0"/>
<circle cx="2155.21" cy="616.32" r="3.5" fill="#a6f89d"/>
<circle cx="2142.57" cy="601.7" r="3.5" fill="#a8f79c"/>
<circle cx="2128.74" cy="586.89" r="3.5" fill="#abf69b"/>
<circle cx="2115.31" cy="569.9" r="3.5" fill="#aef498"/>
<circle cx="2101.88" cy="551.73" r="3.5" fill="#b0f397"/>
<circle cx="2090.62" cy="534.35" r="3.5" fill="#b2f396"/>
<circle cx="2078.77" cy="516.57" r="3.5" fill="#b4f295"/>
<circle cx="2067.9" cy="499.98" r="3.5" fill="#b9ef92"/>
<circle cx="2058.62" cy="485.16" r="3.5" fill="#bbee91"/>
<circle cx="2050.72" cy="470.74" r="3.5" fill="#bced8f"/>
<circle cx="2045.19" cy="457.31" r="3.5" fill="#c0eb8d"/>
<circle cx="2040.64" cy="447.43" r="3.5" fill="#c2ea8c"/>
<circle cx="2037.68" cy="439.53" r="3.5" fill="#c4e88a"/>
<circle cx="2036.3" cy="435.19" r="3.5" fill="#c6e789"/>
<circle cx="2034.32" cy="429.26" r="3.5" fill="#cbe486"/>
<circle cx="2031.36" cy="423.33" r="3.5" fill="#cce385"/>
<circle cx="2028.4" cy="418.4" r="3.5" fill="#cee184"/>
<circle cx="2026.42" cy="415.43" r="3.5" fill="#d0e082"/>
<circle cx="2023.46" cy="414.44" r="3.5" fill="#d4dd80"/>
<circle cx="2020.49" cy="416.42" r="3.5" fill="#d6db7e"/>
<circle cx="2017.53" cy="418" r="3.5" fill="#d9da7d"/>
<circle cx="2012.59" cy="421.75" r="3.5" fill="#dcd67a"/>
<circle cx="2009.63" cy="423.33" r="3.5" fill="#ded579"/>
<circle cx="2004.69" cy="418.4" r="3.5" fill="#e0d377"/>
<circle cx="1999.75" cy="413.85" r="3.5" fill="#e2d176"/>
<circle cx="1993.43" cy="410.89" r="3.5" fill="#e6cd73"/>
<circle cx="1985.33" cy="407.93" r="3.5" fill="#e8cb72"/>
<circle cx="1977.43" cy="406.54" r="3.5" fill="#ebca70"/>
<circle cx="1969.53" cy="408.52" r="3.5" fill="#eec66d"/>
<circle cx="1962.22" cy="415.43" r="3.5" fill="#f0c46c"/>
<circle cx="1955.9" cy="424.32" r="3.5" fill="#f2c26b"/>
<circle cx="1950.96" cy="433.21" r="3.5" fill="#f6be68"/>
<circle cx="1946.42" cy="440.52" r="3.5" fill="#fbb965"/>
<circle cx="1942.86" cy="447.04" r="3.5" fill="#fcb763"/>
<circle cx="1941.88" cy="450" r="3.5" fill="#feb562"/>
<circle cx="1941.48" cy="452.96" r="3.5" fill="#ffb360"/>
<circle cx="1942.47" cy="455.93" r="3.5" fill="#ffb05f"/>
<circle cx="1943.46" cy="458.89" r="3.5" fill="#ffb05f"/>
<circle cx="1944.44" cy="461.85" r="3.5" fill="#ffae5e"/>
<circle cx="1940.49" cy="462.44" r="3.5" fill="#ffac5c"/>
<circle cx="1937.53" cy="464.42" r="3.5" fill="#ffa95b"/>
<circle cx="1935.56" cy="467.78" r="3.5" fill="#ffa759"/>
<circle cx="1936.54" cy="472.72" r="3.5" fill="#ffa558"/>
<circle cx="1939.51" cy="476.67" r="3.5" fill="#ffa256"/>
<circle cx="1944.44" cy="477.65" r="3.5" fill="#ffa055"/>
<circle cx="1949.38" cy="477.26" r="3.5" fill="#ffa055"/>
<circle cx="1954.32" cy="479.04" r="3.5" fill="#ff9d53"/>
<circle cx="1957.28" cy="476.67" r="3.5" fill="#ff9b52"/>
<circle cx="1957.88" cy="472.72" r="3.5" fill="#ff9850"/>
<circle cx="1957.28" cy="467.78" r="3.5" fill="#ff964f"/>
<circle cx="1957.88" cy="460.86" r="3.5" fill="#ff8e4a"/>
<circle cx="1960.25" cy="452.96" r="3.5" fill="#ff8646"/>
<circle cx="1961.23" cy="446.05" r="3.5" fill="#ff7e41"/>
<circle cx="1964.2" cy="440.12" r="3.5" fill="#ff763d"/>
<circle cx="1967.16" cy="436.17" r="3.5" fill="#ff703a"/>
<circle cx="1968.15" cy="433.21" r="3.5" fill="#ff6533"/>
<circle cx="1966.17" cy="429.26" r="3.5" fill="#ff5f30"/>
<circle cx="1964.2" cy="427.28" r="3.5" fill="#ff592d"/>
<circle cx="1961.63" cy="422.35" r="3.5" fill="#ff532a"/>
<circle cx="1961.23" cy="419.38" r="3.5" fill="#ff4d27"/>
<circle cx="1962.22" cy="424.32" r="3.5" fill="#ff4724"/>
<circle cx="1963.6" cy="428.27" r="3.5" fill="#ff4422"/>
<circle cx="1965.19" cy="429.26" r="3.5" fill="#ff3e1f"/>
<circle cx="1962.81" cy="431.23" r="3.5" fill="#ff3b1e"/>
<circle cx="1960.25" cy="432.81" r="3.5" fill="#ff351b"/>
<circle cx="1958.27" cy="434.2" r="3.5" fill="#ff3219"/>
<circle cx="1956.3" cy="437.16" r="3.5" fill="#ff2c16"/>
<circle cx="1955.31" cy="438.15" r="3.5" fill="#ff2613"/>
<circle cx="1958.27" cy="436.17" r="3.5" fill="#ff2211"/>
<circle cx="1960.25" cy="434.79" r="3.5" fill="#ff1c0e"/>
<circle cx="1961.63" cy="432.81" r="3.5" fill="#ff160b"/>
<circle cx="1963.21" cy="430.84" r="3.5" fill="#ff1309"/>
<circle cx="1964.79" cy="429.26" r="3.5" fill="#ff0d06"/>
<circle cx="1962.81" cy="430.25" r="3.5" fill="#ff0905"/>
<circle cx="1960.84" cy="432.22" r="3.5" fill="#ff0302"/>
<circle cx="1959.26" cy="434.2" r="3.5" fill="#ff0000"/>
</g>
<g stroke="#000" stroke-width="1.78" stroke-dasharray="1.78 2.93" fill="none">
<path d="M1679 934V44"/>
<path d="M1797 934V44"/>
<path d="M1915 934V44"/>
<path d="M2032 934V44"/>
<path d="M2150 934V44"/>
<path d="M2268 934V44"/>
<path d="M2386 934V44"/>
<path d="M2503 934V44"/>
<path d="M2621 934V44"/>
<path d="M1679 934H2621"/>
<path d="M1679 822H2621"/>
<path d="M1679 711H2621"/>
<path d="M1679 600H2621"/>
<path d="M1679 489H2621"/>
<path d="M1679 377H2621"/>
<path d="M1679 266H2621"/>
<path d="M1679 155H2621"/>
<path d="M1679 44H2621"/>
</g>
<g stroke="#000" stroke-width="1.78" fill="none">
<path d="M1679 934v7.78"/>
<path d="M1797 934v7.78"/>
<path d="M1915 934v7.78"/>
<path d="M2032 934v7.78"/>
<path d="M2150 934v7.78"/>
<path d="M2268 934v7.78"/>
<path d="M2386 934v7.78"/>
<path d="M2503 934v7.78"/>
<path d="M2621 934v7.78"/>
<path d="M1679 934h-7.78"/>
<path d="M1679 822h-7.78"/>
<path d="M1679 711h-7.78"/>
<path d="M1679 600h-7.78"/>
<path d="M1679 489h-7.78"/>
<path d="M1679 377h-7.78"/>
<path d="M1679 266h-7.78"/>
<path d="M1679 155h-7.78"/>
<path d="M1679 44h-7.78"/>
<rect x="1679" y="44" width="942" height="890"/>
</g>
<g font-size="55.56" text-anchor="middle">
<text x="1679" y="991.78" textLength="169">−1.00</text>
<text x="1796.75" y="991.78" textLength="169">−0.75</text>
<text x="1914.5" y="991.78" textLength="169">−0.50</text>
<text x="2032.25" y="991.78" textLength="169">−0.25</text>
<text x="2150" y="991.78" textLength="123">0.00</text>
<text x="2267.75" y="991.78" textLength="123">0.25</text>
<text x="2385.5" y="991.78" textLength="123">0.50</text>
<text x="2503.25" y="991.78" textLength="123">0.75</text>
<text x="2621" y="991.78" textLength="123">1.00</text>
</g>
<g font-size="55.56" text-anchor="end">
<text x="1663.94" y="954.71" textLength="169">−1.00</text>
<text x="1663.94" y="843.46" textLength="169">−0.75</text>
<text x="1663.94" y="732.21" textLength="169">−0.50</text>
<text x="1663.94" y="620.96" textLength="169">−0.25</text>
<text x="1663.94" y="509.71" textLength="123">0.00</text>
<text x="1663.94" y="398.46" textLength="123">0.25</text>
<text x="1663.94" y="287.21" textLength="123">0.50</text>
<text x="1663.94" y="175.96" textLength="123">0.75</text>
<text x="1663.94" y="64.71" textLength="123">1.00</text>
</g>
<rect x="2626" y="44" width="45" height="890" fill="url(#rb)" stroke="#000" stroke-width="1.78"/>
<g stroke="#000" stroke-width="1.78"><path d="M2671 44h7.78"/><path d="M2671 493h7.78"/></g>
<g font-size="40"><text x="2687.86" y="58.8" textLength="113">299.0</text><text x="2687.86" y="508.31" textLength="113">149.5</text></g>
<g clip-path="url(#c3)">
<circle cx="605.28" cy="1574.03" r="3.5" fill="#8000ff"/>
<circle cx="604.45" cy="1597.43" r="3.5" fill="#8000ff"/>
<circle cx="603.9" cy="1624.97" r="3.5" fill="#8000ff"/>
<circle cx="602.8" cy="1661.31" r="3.5" fill="#8000ff"/>
<circle cx="601.15" cy="1707.02" r="3.5" fill="#8000ff"/>
<circle cx="598.67" cy="1742.53" r="3.5" fill="#7e03ff"/>
<circle cx="596.19" cy="1759.6" r="3.5" fill="#7c06ff"/>
<circle cx="592.89" cy="1761.26" r="3.5" fill="#7a09ff"/>
<circle cx="590.82" cy="1762.22" r="3.5" fill="#780dff"/>
<circle cx="588.76" cy="1763.18" r="3.5" fill="#780dff"/>
<circle cx="586.69" cy="1764.28" r="3.5" fill="#7610ff"/>
<circle cx="584.63" cy="1765.39" r="3.5" fill="#7610ff"/>
<circle cx="582.56" cy="1765.39" r="3.5" fill="#7413ff"/>
<circle cx="580.5" cy="1765.39" r="3.5" fill="#7413ff"/>
<circle cx="578.43" cy="1763.32" r="3.5" fill="#7216ff"/>
<circle cx="576.37" cy="1761.26" r="3.5" fill="#7216ff"/>
<circle cx="573.61" cy="1759.88" r="3.5" fill="#7019ff"/>
<circle cx="571.55" cy="1761.94" r="3.5" fill="#6e1cff"/>
<circle cx="569.48" cy="1764.01" r="3.5" fill="#6e1cff"/>
<circle cx="567.69" cy="1765.66" r="3.5" fill="#6c1fff"/>
<circle cx="565.9" cy="1767.31" r="3.5" fill="#6a22fe"/>
<circle cx="562.6" cy="1766.21" r="3.5" fill="#6826fe"/>
<circle cx="560.67" cy="1759.05" r="3.5" fill="#6629fe"/>
<circle cx="558.47" cy="1748.31" r="3.5" fill="#642cfe"/>
<circle cx="555.72" cy="1737.03" r="3.5" fill="#6032fe"/>
<circle cx="553.93" cy="1734.27" r="3.5" fill="#5e35fe"/>
<circle cx="552.14" cy="1731.52" r="3.5" fill="#5e35fe"/>
<circle cx="550.21" cy="1732.9" r="3.5" fill="#5c38fd"/>
<circle cx="548.28" cy="1734.27" r="3.5" fill="#5a3bfd"/>
<circle cx="544.7" cy="1733.72" r="3.5" fill="#583efd"/>
<circle cx="544.01" cy="1731.38" r="3.5" fill="#5641fd"/>
<circle cx="543.33" cy="1729.04" r="3.5" fill="#5641fd"/>
<circle cx="541.12" cy="1717.75" r="3.5" fill="#5247fc"/>
<circle cx="538.65" cy="1706.19" r="3.5" fill="#504afc"/>
<circle cx="536.72" cy="1697.1" r="3.5" fill="#4e4dfc"/>
<circle cx="534.79" cy="1688.84" r="3.5" fill="#4c50fc"/>
<circle cx="533.14" cy="1676.73" r="3.5" fill="#4a53fb"/>
<circle cx="531.21" cy="1661.59" r="3.5" fill="#4856fb"/>
<circle cx="521.3" cy="1661.59" r="3.5" fill="#4659fb"/>
<circle cx="519.92" cy="1656.63" r="3.5" fill="#445cfb"/>
<circle cx="522.68" cy="1653.88" r="3.5" fill="#425ffa"/>
<circle cx="521.3" cy="1659.38" r="3.5" fill="#4062fa"/>
<circle cx="517.72" cy="1645.07" r="3.5" fill="#3e65fa"/>
<circle cx="524.05" cy="1645.07" r="3.5" fill="#3c68f9"/>
<circle cx="530.11" cy="1644.52" r="3.5" fill="#396bf9"/>
<circle cx="525.43" cy="1635.98" r="3.5" fill="#386df9"/>
<circle cx="526.81" cy="1631.85" r="3.5" fill="#3670f8"/>
<circle cx="528.18" cy="1626.34" r="3.5" fill="#3473f8"/>
<circle cx="529.01" cy="1629.1" r="3.5" fill="#3176f8"/>
<circle cx="516.62" cy="1630.75" r="3.5" fill="#3079f7"/>
<circle cx="515.79" cy="1617.53" r="3.5" fill="#2e7bf7"/>
<circle cx="513.04" cy="1616.16" r="3.5" fill="#2c7ef7"/>
<circle cx="510.84" cy="1612.58" r="3.5" fill="#2981f6"/>
<circle cx="508.91" cy="1608.45" r="3.5" fill="#2884f6"/>
<circle cx="507.53" cy="1605.69" r="3.5" fill="#2489f5"/>
<circle cx="514.42" cy="1600.19" r="3.5" fill="#218cf4"/>
<circle cx="515.24" cy="1605.69" r="3.5" fill="#208ef4"/>
<circle cx="508.36" cy="1599.36" r="3.5" fill="#1e91f3"/>
<circle cx="507.53" cy="1590.55" r="3.5" fill="#1996f3"/>
<circle cx="507.26" cy="1581.74" r="3.5" fill="#1898f2"/>
<circle cx="506.98" cy="1569.9" r="3.5" fill="#149df1"/>
<circle cx="506.71" cy="1555.31" r="3.5" fill="#10a2f0"/>
<circle cx="506.71" cy="1540.44" r="3.5" fill="#0ea5ef"/>
<circle cx="507.26" cy="1525.02" r="3.5" fill="#0ca7ef"/>
<circle cx="507.81" cy="1512.91" r="3.5" fill="#09a9ee"/>
<circle cx="508.36" cy="1504.65" r="3.5" fill="#06aeed"/>
<circle cx="509.74" cy="1496.94" r="3.5" fill="#04b0ed"/>
<circle cx="510.29" cy="1494.87" r="3.5" fill="#01b3ec"/>
<circle cx="510.84" cy="1492.81" r="3.5" fill="#00b5eb"/>
<circle cx="512.63" cy="1491.43" r="3.5" fill="#02b7eb"/>
<circle cx="514.42" cy="1490.06" r="3.5" fill="#04b9ea"/>
<circle cx="515.38" cy="1487.71" r="3.5" fill="#07bbea"/>
<circle cx="516.34" cy="1485.37" r="3.5" fill="#08bee9"/>
<circle cx="517.44" cy="1482.21" r="3.5" fill="#0ac0e8"/>
<circle cx="518.55" cy="1479.04" r="3.5" fill="#0dc2e8"/>
<circle cx="519.65" cy="1475.88" r="3.5" fill="#10c6e6"/>
<circle cx="520.75" cy="1472.71" r="3.5" fill="#12c8e6"/>
<circle cx="521.71" cy="1469.41" r="3.5" fill="#14cae5"/>
<circle cx="522.68" cy="1466.1" r="3.5" fill="#17cbe4"/>
<circle cx="523.78" cy="1462.94" r="3.5" fill="#18cde4"/>
<circle cx="524.88" cy="1459.77" r="3.5" fill="#1acfe3"/>
<circle cx="527.36" cy="1451.51" r="3.5" fill="#1fd3e1"/>
<circle cx="528.46" cy="1448.07" r="3.5" fill="#20d5e1"/>
<circle cx="529.56" cy="1444.63" r="3.5" fill="#22d6e0"/>
<circle cx="530.94" cy="1441.87" r="3.5" fill="#22d6e0"/>
<circle cx="532.31" cy="1439.12" r="3.5" fill="#24d8df"/>
<circle cx="533.69" cy="1437.05" r="3.5" fill="#27dade"/>
<circle cx="535.07" cy="1434.99" r="3.5" fill="#27dade"/>
<circle cx="536.86" cy="1432.65" r="3.5" fill="#28dbde"/>
<circle cx="538.65" cy="1430.31" r="3.5" fill="#2adddd"/>
<circle cx="541.95" cy="1428.11" r="3.5" fill="#2ddedc"/>
<circle cx="544.01" cy="1427" r="3.5" fill="#2fe0db"/>
<circle cx="546.08" cy="1425.9" r="3.5" fill="#30e1da"/>
<circle cx="547.18" cy="1423.29" r="3.5" fill="#30e1da"/>
<circle cx="548.28" cy="1420.67" r="3.5" fill="#32e3da"/>
<circle cx="550.21" cy="1413.51" r="3.5" fill="#37e6d8"/>
<circle cx="552.14" cy="1403.88" r="3.5" fill="#38e7d7"/>
<circle cx="554.89" cy="1392.31" r="3.5" fill="#3ae8d6"/>
<circle cx="556.54" cy="1389.01" r="3.5" fill="#3dead5"/>
<circle cx="557.92" cy="1391.35" r="3.5" fill="#3febd5"/>
<circle cx="559.3" cy="1393.69" r="3.5" fill="#3febd5"/>
<circle cx="561.22" cy="1402.78" r="3.5" fill="#40ecd4"/>
<circle cx="563.43" cy="1412.96" r="3.5" fill="#42edd3"/>
<circle cx="565.9" cy="1421.77" r="3.5" fill="#46efd1"/>
<circle cx="567" cy="1425.21" r="3.5" fill="#46efd1"/>
<circle cx="568.11" cy="1428.66" r="3.5" fill="#48f1d0"/>
<circle cx="570.31" cy="1430.86" r="3.5" fill="#4af2cf"/>
<circle cx="571.69" cy="1429.21" r="3.5" fill="#4af2cf"/>
<circle cx="573.06" cy="1427.56" r="3.5" fill="#4df3ce"/>
<circle cx="574.44" cy="1424.66" r="3.5" fill="#4ef3cd"/>
<circle cx="575.81" cy="1421.77" r="3.5" fill="#4ef3cd"/>
<circle cx="577.19" cy="1419.02" r="3.5" fill="#50f4cc"/>
<circle cx="578.57" cy="1416.27" r="3.5" fill="#52f5cb"/>
<circle cx="579.94" cy="1414.61" r="3.5" fill="#52f5cb"/>
<circle cx="581.32" cy="1412.96" r="3.5" fill="#54f6cb"/>
<circle cx="584.63" cy="1411.59" r="3.5" fill="#56f7ca"/>
<circle cx="587.93" cy="1412.96" r="3.5" fill="#58f8c9"/>
<circle cx="589.72" cy="1414.34" r="3.5" fill="#5af8c8"/>
<circle cx="591.51" cy="1415.72" r="3.5" fill="#5df9c7"/>
<circle cx="594.26" cy="1418.47" r="3.5" fill="#5efac6"/>
<circle cx="597.02" cy="1420.4" r="3.5" fill="#60fac5"/>
<circle cx="598.39" cy="1417.92" r="3.5" fill="#64fbc3"/>
<circle cx="600.32" cy="1410.21" r="3.5" fill="#66fcc2"/>
<circle cx="602.52" cy="1399.2" r="3.5" fill="#6afdc0"/>
<circle cx="604.45" cy="1388.18" r="3.5" fill="#6efebe"/>
<circle cx="607.2" cy="1379.37" r="3.5" fill="#72febb"/>
<circle cx="608.99" cy="1376.62" r="3.5" fill="#72febb"/>
<circle cx="610.78" cy="1373.87" r="3.5" fill="#74feba"/>
<circle cx="614.36" cy="1372.49" r="3.5" fill="#78ffb8"/>
<circle cx="617.67" cy="1374.42" r="3.5" fill="#7dffb6"/>
<circle cx="619.73" cy="1375.79" r="3.5" fill="#7dffb6"/>
<circle cx="621.8" cy="1377.17" r="3.5" fill="#7effb5"/>
<circle cx="623.86" cy="1378.55" r="3.5" fill="#80ffb4"/>
<circle cx="625.93" cy="1379.92" r="3.5" fill="#82ffb3"/>
<circle cx="628.4" cy="1381.02" r="3.5" fill="#84ffb2"/>
<circle cx="630.88" cy="1382.13" r="3.5" fill="#84ffb2"/>
<circle cx="633.22" cy="1382.68" r="3.5" fill="#86ffb0"/>
<circle cx="635.56" cy="1383.23" r="3.5" fill="#88ffaf"/>
<circle cx="637.63" cy="1383.36" r="3.5" fill="#8bfeae"/>
<circle cx="639.69" cy="1383.5" r="3.5" fill="#8cfead"/>
<circle cx="641.07" cy="1385.43" r="3.5" fill="#8cfead"/>
<circle cx="642.44" cy="1387.36" r="3.5" fill="#8efeac"/>
<circle cx="643.82" cy="1390.25" r="3.5" fill="#8efeac"/>
<circle cx="645.2" cy="1393.14" r="3.5" fill="#90feab"/>
<circle cx="646.85" cy="1396.17" r="3.5" fill="#90feab"/>
<circle cx="648.5" cy="1399.2" r="3.5" fill="#92fda9"/>
<circle cx="650.29" cy="1402.22" r="3.5" fill="#92fda9"/>
<circle cx="652.08" cy="1405.25" r="3.5" fill="#94fda8"/>
<circle cx="653.87" cy="1407.73" r="3.5" fill="#94fda8"/>
<circle cx="655.66" cy="1410.21" r="3.5" fill="#96fca7"/>
<circle cx="656.9" cy="1412.27" r="3.5" fill="#96fca7"/>
<circle cx="658.14" cy="1414.34" r="3.5" fill="#99fca6"/>
<circle cx="659.52" cy="1422.05" r="3.5" fill="#99fca6"/>
<circle cx="661.17" cy="1435.81" r="3.5" fill="#9bfba5"/>
<circle cx="663.09" cy="1453.71" r="3.5" fill="#9cfba4"/>
<circle cx="664.2" cy="1472.71" r="3.5" fill="#9efaa2"/>
<circle cx="665.3" cy="1492.81" r="3.5" fill="#a0faa1"/>
<circle cx="666.12" cy="1514.28" r="3.5" fill="#a2f9a0"/>
<circle cx="666.67" cy="1534.66" r="3.5" fill="#a4f89f"/>
<circle cx="666.95" cy="1554.76" r="3.5" fill="#a6f89d"/>
<circle cx="666.67" cy="1574.03" r="3.5" fill="#a6f89d"/>
<circle cx="666.12" cy="1590.55" r="3.5" fill="#a8f79c"/>
<circle cx="665.3" cy="1606.52" r="3.5" fill="#abf69b"/>
<circle cx="664.47" cy="1620.84" r="3.5" fill="#acf59a"/>
<circle cx="663.92" cy="1630.47" r="3.5" fill="#aef498"/>
<circle cx="663.51" cy="1633.92" r="3.5" fill="#b0f397"/>
<circle cx="663.09" cy="1637.36" r="3.5" fill="#b2f396"/>
<circle cx="662.41" cy="1640.11" r="3.5" fill="#b2f396"/>
<circle cx="661.72" cy="1642.86" r="3.5" fill="#b4f295"/>
<circle cx="661.03" cy="1645.62" r="3.5" fill="#b6f193"/>
<circle cx="660.34" cy="1648.37" r="3.5" fill="#b9ef92"/>
<circle cx="659.38" cy="1651.81" r="3.5" fill="#bbee91"/>
<circle cx="658.41" cy="1655.25" r="3.5" fill="#bced8f"/>
<circle cx="657.31" cy="1658.01" r="3.5" fill="#beec8e"/>
<circle cx="656.21" cy="1660.76" r="3.5" fill="#c0eb8d"/>
<circle cx="653.46" cy="1663.51" r="3.5" fill="#c2ea8c"/>
<circle cx="651.39" cy="1663.79" r="3.5" fill="#c4e88a"/>
<circle cx="649.33" cy="1664.06" r="3.5" fill="#c6e789"/>
<circle cx="646.02" cy="1662.14" r="3.5" fill="#c8e688"/>
<circle cx="644.51" cy="1660.76" r="3.5" fill="#cbe486"/>
<circle cx="643" cy="1659.38" r="3.5" fill="#cce385"/>
<circle cx="642.03" cy="1661.45" r="3.5" fill="#cee184"/>
<circle cx="641.07" cy="1663.51" r="3.5" fill="#d0e082"/>
<circle cx="639.97" cy="1666.27" r="3.5" fill="#d2de81"/>
<circle cx="638.87" cy="1669.02" r="3.5" fill="#d2de81"/>
<circle cx="637.63" cy="1672.19" r="3.5" fill="#d4dd80"/>
<circle cx="636.39" cy="1675.35" r="3.5" fill="#d6db7e"/>
<circle cx="635.29" cy="1678.11" r="3.5" fill="#d9da7d"/>
<circle cx="634.19" cy="1680.86" r="3.5" fill="#dbd87b"/>
<circle cx="631.98" cy="1682.24" r="3.5" fill="#dcd67a"/>
<circle cx="631.02" cy="1679.34" r="3.5" fill="#ded579"/>
<circle cx="630.06" cy="1676.45" r="3.5" fill="#e2d176"/>
<circle cx="627.85" cy="1667.64" r="3.5" fill="#e6cd73"/>
<circle cx="625.93" cy="1659.93" r="3.5" fill="#ecc86f"/>
<circle cx="624.55" cy="1652.5" r="3.5" fill="#f0c46c"/>
<circle cx="623.86" cy="1649.06" r="3.5" fill="#f2c26b"/>
<circle cx="623.17" cy="1645.62" r="3.5" fill="#f6be68"/>
<circle cx="622.48" cy="1642.18" r="3.5" fill="#f9bb66"/>
<circle cx="621.8" cy="1638.73" r="3.5" fill="#fbb965"/>
<circle cx="621.11" cy="1635.29" r="3.5" fill="#fcb763"/>
<circle cx="620.42" cy="1631.85" r="3.5" fill="#ffb360"/>
<circle cx="619.73" cy="1629.1" r="3.5" fill="#ffb05f"/>
<circle cx="619.04" cy="1626.34" r="3.5" fill="#ffae5e"/>
<circle cx="617.94" cy="1623.59" r="3.5" fill="#ffac5c"/>
<circle cx="616.84" cy="1620.84" r="3.5" fill="#ffa95b"/>
<circle cx="615.88" cy="1617.4" r="3.5" fill="#ffa558"/>
<circle cx="614.91" cy="1613.95" r="3.5" fill="#ffa256"/>
<circle cx="613.54" cy="1605.69" r="3.5" fill="#ff9d53"/>
<circle cx="612.85" cy="1602.25" r="3.5" fill="#ff9850"/>
<circle cx="612.16" cy="1598.81" r="3.5" fill="#ff964f"/>
<circle cx="611.47" cy="1596.06" r="3.5" fill="#ff934d"/>
<circle cx="610.78" cy="1593.3" r="3.5" fill="#ff914c"/>
<circle cx="609.82" cy="1591.24" r="3.5" fill="#ff8c49"/>
<circle cx="608.85" cy="1589.17" r="3.5" fill="#ff8947"/>
<circle cx="607.2" cy="1591.93" r="3.5" fill="#ff8444"/>
<circle cx="606.1" cy="1601.56" r="3.5" fill="#ff7b40"/>
<circle cx="605.28" cy="1611.2" r="3.5" fill="#ff733b"/>
<circle cx="604.59" cy="1614.64" r="3.5" fill="#ff703a"/>
<circle cx="603.9" cy="1618.08" r="3.5" fill="#ff6d38"/>
<circle cx="602.52" cy="1620.84" r="3.5" fill="#ff6533"/>
<circle cx="601.56" cy="1618.08" r="3.5" fill="#ff6232"/>
<circle cx="600.59" cy="1615.33" r="3.5" fill="#ff5f30"/>
<circle cx="598.39" cy="1612.03" r="3.5" fill="#ff592d"/>
<circle cx="597.02" cy="1613.68" r="3.5" fill="#ff562c"/>
<circle cx="595.64" cy="1615.33" r="3.5" fill="#ff532a"/>
<circle cx="593.44" cy="1623.59" r="3.5" fill="#ff4d27"/>
<circle cx="590.96" cy="1615.33" r="3.5" fill="#ff4422"/>
<circle cx="590.13" cy="1607.07" r="3.5" fill="#ff3b1e"/>
<circle cx="589.31" cy="1598.81" r="3.5" fill="#ff3219"/>
<circle cx="588.34" cy="1596.06" r="3.5" fill="#ff2f18"/>
<circle cx="587.38" cy="1593.3" r="3.5" fill="#ff2914"/>
<circle cx="586" cy="1591.24" r="3.5" fill="#ff2613"/>
<circle cx="584.63" cy="1589.17" r="3.5" fill="#ff2211"/>
<circle cx="583.52" cy="1587.11" r="3.5" fill="#ff1c0e"/>
<circle cx="582.42" cy="1585.04" r="3.5" fill="#ff190d"/>
<circle cx="581.46" cy="1582.29" r="3.5" fill="#ff1309"/>
<circle cx="580.5" cy="1579.54" r="3.5" fill="#ff1008"/>
<circle cx="580.08" cy="1576.78" r="3.5" fill="#ff0d06"/>
<circle cx="579.67" cy="1574.03" r="3.5" fill="#ff0603"/>
<circle cx="579.12" cy="1571.97" r="3.5" fill="#ff0302"/>
<circle cx="578.57" cy="1569.9" r="3.5" fill="#ff0000"/>
</g>
<g stroke="#000" stroke-width="1.78" stroke-dasharray="1.78 2.93" fill="none">
<path d="M230 2002V1112"/>
<path d="M356 2002V1112"/>
<path d="M481 2002V1112"/>
<path d="M607 2002V1112"/>
<path d="M732 2002V1112"/>
<path d="M858 2002V1112"/>
<path d="M984 2002V1112"/>
<path d="M1109 2002V1112"/>
<path d="M230 2002H1172"/>
<path d="M230 1890H1172"/>
<path d="M230 1779H1172"/>
<path d="M230 1668H1172"/>
<path d="M230 1557H1172"/>
<path d="M230 1445H1172"/>
<path d="M230 1334H1172"/>
<path d="M230 1223H1172"/>
<path d="M230 1112H1172"/>
</g>
<g stroke="#000" stroke-width="1.78" fill="none">
<path d="M230 2002v7.78"/>
<path d="M356 2002v7.78"/>
<path d="M481 2002v7.78"/>
<path d="M607 2002v7.78"/>
<path d="M732 2002v7.78"/>
<path d="M858 2002v7.78"/>
<path d="M984 2002v7.78"/>
<path d="M1109 2002v7.78"/>
<path d="M230 2002h-7.78"/>
<path d="M230 1890h-7.78"/>
<path d="M230 1779h-7.78"/>
<path d="M230 1668h-7.78"/>
<path d="M230 1557h-7.78"/>
<path d="M230 1445h-7.78"/>
<path d="M230 1334h-7.78"/>
<path d="M230 1223h-7.78"/>
<path d="M230 1112h-7.78"/>
<rect x="230" y="1112" width="942" height="890"/>
</g>
<g font-size="55.56" text-anchor="middle">
<text x="230" y="2059.78" textLength="35">0</text>
<text x="355.6" y="2059.78" textLength="70">20</text>
<text x="481.2" y="2059.78" textLength="70">40</text>
<text x="606.8" y="2059.78" textLength="70">60</text>
<text x="732.4" y="2059.78" textLength="70">80</text>
<text x="858" y="2059.78" textLength="105">100</text>
<text x="983.6" y="2059.78" textLength="105">120</text>
<text x="1109.2" y="2059.78" textLength="105">140</text>
</g>
<g font-size="55.56" text-anchor="end">
<text x="214.94" y="2022.71" textLength="169">−1.00</text>
<text x="214.94" y="1911.46" textLength="169">−0.75</text>
<text x="214.94" y="1800.21" textLength="169">−0.50</text>
<text x="214.94" y="1688.96" textLength="169">−0.25</text>
<text x="214.94" y="1577.71" textLength="123">0.00</text>
<text x="214.94" y="1466.46" textLength="123">0.25</text>
<text x="214.94" y="1355.21" textLength="123">0.50</text>
<text x="214.94" y="1243.96" textLength="123">0.75</text>
<text x="214.94" y="1132.71" textLength="123">1.00</text>
</g>
<rect x="1178" y="1112" width="44" height="890" fill="url(#rb)" stroke="#000" stroke-width="1.78"/>
<g stroke="#000" stroke-width="1.78"><path d="M1222 1112h7.78"/><path d="M1222 1561h7.78"/></g>
<g font-size="40"><text x="1238.86" y="1126.8" textLength="113">299.0</text><text x="1238.86" y="1576.31" textLength="113">149.5</text></g>
<g clip-path="url(#c4)">
<circle cx="1688.5" cy="1686.98" r="3.5" fill="#ff0000"/>
<circle cx="1692.23" cy="1683.63" r="3.5" fill="#ff0100"/>
<circle cx="1695.96" cy="1676.09" r="3.5" fill="#ff0200"/>
<circle cx="1699.7" cy="1658.08" r="3.5" fill="#ff0300"/>
<circle cx="1703.43" cy="1621.65" r="3.5" fill="#ff0400"/>
<circle cx="1707.16" cy="1579.77" r="3.5" fill="#ff0500"/>
<circle cx="1710.89" cy="1553.39" r="3.5" fill="#ff0600"/>
<circle cx="1714.62" cy="1547.94" r="3.5" fill="#ff0700"/>
<circle cx="1718.36" cy="1542.92" r="3.5" fill="#ff0800"/>
<circle cx="1722.09" cy="1533.71" r="3.5" fill="#ff0900"/>
<circle cx="1725.82" cy="1522.4" r="3.5" fill="#ff0a00"/>
<circle cx="1729.55" cy="1516.12" r="3.5" fill="#ff0b00"/>
<circle cx="1733.28" cy="1521.56" r="3.5" fill="#ff0c00"/>
<circle cx="1737.02" cy="1527.84" r="3.5" fill="#ff0d00"/>
<circle cx="1740.75" cy="1529.1" r="3.5" fill="#ff0e00"/>
<circle cx="1744.48" cy="1525.33" r="3.5" fill="#ff0f00"/>
<circle cx="1748.21" cy="1523.65" r="3.5" fill="#ff1000"/>
<circle cx="1751.94" cy="1524.91" r="3.5" fill="#ff1100"/>
<circle cx="1755.68" cy="1534.96" r="3.5" fill="#ff1200"/>
<circle cx="1759.41" cy="1547.53" r="3.5" fill="#ff1300"/>
<circle cx="1763.14" cy="1560.09" r="3.5" fill="#ff1400"/>
<circle cx="1766.87" cy="1564.7" r="3.5" fill="#ff1500"/>
<circle cx="1770.6" cy="1564.28" r="3.5" fill="#ff1600"/>
<circle cx="1774.34" cy="1563.02" r="3.5" fill="#ff1700"/>
<circle cx="1778.07" cy="1563.86" r="3.5" fill="#ff1800"/>
<circle cx="1781.8" cy="1570.98" r="3.5" fill="#ff1900"/>
<circle cx="1785.53" cy="1584.8" r="3.5" fill="#ff1a00"/>
<circle cx="1789.26" cy="1596.52" r="3.5" fill="#ff1b00"/>
<circle cx="1793" cy="1603.64" r="3.5" fill="#ff1c00"/>
<circle cx="1796.73" cy="1609.09" r="3.5" fill="#ff1d00"/>
<circle cx="1800.46" cy="1613.69" r="3.5" fill="#ff1e00"/>
<circle cx="1804.19" cy="1619.14" r="3.5" fill="#ff1f00"/>
<circle cx="1807.92" cy="1625.84" r="3.5" fill="#ff2000"/>
<circle cx="1811.66" cy="1627.93" r="3.5" fill="#ff2100"/>
<circle cx="1815.39" cy="1629.19" r="3.5" fill="#ff2200"/>
<circle cx="1819.12" cy="1629.61" r="3.5" fill="#ff2300"/>
<circle cx="1822.85" cy="1629.61" r="3.5" fill="#ff2500"/>
<circle cx="1826.58" cy="1629.61" r="3.5" fill="#ff2600"/>
<circle cx="1830.32" cy="1630.03" r="3.5" fill="#ff2700"/>
<circle cx="1834.05" cy="1630.03" r="3.5" fill="#ff2800"/>
<circle cx="1837.78" cy="1629.61" r="3.5" fill="#ff2900"/>
<circle cx="1841.51" cy="1628.35" r="3.5" fill="#ff2a00"/>
<circle cx="1845.24" cy="1626.26" r="3.5" fill="#ff2b00"/>
<circle cx="1848.98" cy="1623.32" r="3.5" fill="#ff2c00"/>
<circle cx="1852.71" cy="1622.07" r="3.5" fill="#ff2d00"/>
<circle cx="1856.44" cy="1625.42" r="3.5" fill="#ff2e00"/>
<circle cx="1860.17" cy="1635.47" r="3.5" fill="#ff2f00"/>
<circle cx="1863.9" cy="1645.1" r="3.5" fill="#ff3000"/>
<circle cx="1867.64" cy="1652.22" r="3.5" fill="#ff3100"/>
<circle cx="1871.37" cy="1654.31" r="3.5" fill="#ff3200"/>
<circle cx="1875.1" cy="1652.64" r="3.5" fill="#ff3300"/>
<circle cx="1878.83" cy="1650.55" r="3.5" fill="#ff3400"/>
<circle cx="1882.56" cy="1650.13" r="3.5" fill="#ff3500"/>
<circle cx="1886.3" cy="1652.22" r="3.5" fill="#ff3600"/>
<circle cx="1890.03" cy="1656.83" r="3.5" fill="#ff3700"/>
<circle cx="1893.76" cy="1662.69" r="3.5" fill="#ff3800"/>
<circle cx="1897.49" cy="1670.23" r="3.5" fill="#ff3900"/>
<circle cx="1901.22" cy="1676.09" r="3.5" fill="#ff3a00"/>
<circle cx="1904.96" cy="1675.67" r="3.5" fill="#ff3b00"/>
<circle cx="1908.69" cy="1667.3" r="3.5" fill="#ff3c00"/>
<circle cx="1912.42" cy="1653.48" r="3.5" fill="#ff3d00"/>
<circle cx="1916.15" cy="1641.75" r="3.5" fill="#ff3e00"/>
<circle cx="1919.88" cy="1636.31" r="3.5" fill="#ff3f00"/>
<circle cx="1923.62" cy="1635.89" r="3.5" fill="#ff4000"/>
<circle cx="1927.35" cy="1641.33" r="3.5" fill="#ff4100"/>
<circle cx="1931.08" cy="1652.22" r="3.5" fill="#ff4200"/>
<circle cx="1934.81" cy="1668.13" r="3.5" fill="#ff4300"/>
<circle cx="1938.54" cy="1687.4" r="3.5" fill="#ff4400"/>
<circle cx="1942.28" cy="1701.64" r="3.5" fill="#ff4500"/>
<circle cx="1946.01" cy="1706.66" r="3.5" fill="#ff4600"/>
<circle cx="1949.74" cy="1707.92" r="3.5" fill="#ff4700"/>
<circle cx="1953.47" cy="1707.08" r="3.5" fill="#ff4900"/>
<circle cx="1957.2" cy="1705.82" r="3.5" fill="#ff4a00"/>
<circle cx="1960.94" cy="1710.43" r="3.5" fill="#ff4b00"/>
<circle cx="1964.67" cy="1723.83" r="3.5" fill="#ff4c00"/>
<circle cx="1968.4" cy="1743.1" r="3.5" fill="#ff4d00"/>
<circle cx="1972.13" cy="1764.87" r="3.5" fill="#ff4e00"/>
<circle cx="1975.86" cy="1779.53" r="3.5" fill="#ff4f00"/>
<circle cx="1979.6" cy="1783.72" r="3.5" fill="#ff5000"/>
<circle cx="1983.33" cy="1781.82" r="3.5" fill="#ff5100"/>
<circle cx="1987.06" cy="1770.45" r="3.5" fill="#ff5200"/>
<circle cx="1990.79" cy="1763.64" r="3.5" fill="#ff5300"/>
<circle cx="1994.52" cy="1756.82" r="3.5" fill="#ff5400"/>
<circle cx="1998.26" cy="1750" r="3.5" fill="#ff5500"/>
<circle cx="2001.99" cy="1743.18" r="3.5" fill="#ff5600"/>
<circle cx="2005.72" cy="1734.55" r="3.5" fill="#ff5700"/>
<circle cx="2009.45" cy="1726.36" r="3.5" fill="#ff5800"/>
<circle cx="2013.18" cy="1718.18" r="3.5" fill="#ff5900"/>
<circle cx="2016.92" cy="1708.64" r="3.5" fill="#ff5a00"/>
<circle cx="2020.65" cy="1707.73" r="3.5" fill="#ff5b00"/>
<circle cx="2024.38" cy="1707.73" r="3.5" fill="#ff5c00"/>
<circle cx="2028.11" cy="1702.73" r="3.5" fill="#ff5d00"/>
<circle cx="2031.84" cy="1692.27" r="3.5" fill="#ff5e00"/>
<circle cx="2035.58" cy="1677.27" r="3.5" fill="#ff5f00"/>
<circle cx="2039.31" cy="1655.45" r="3.5" fill="#ff6000"/>
<circle cx="2043.04" cy="1622.27" r="3.5" fill="#ff6100"/>
<circle cx="2046.77" cy="1615.91" r="3.5" fill="#ff6200"/>
<circle cx="2050.5" cy="1645.91" r="3.5" fill="#ff6300"/>
<circle cx="2054.24" cy="1685" r="3.5" fill="#ff6400"/>
<circle cx="2057.97" cy="1722.73" r="3.5" fill="#ff6500"/>
<circle cx="2061.7" cy="1748.64" r="3.5" fill="#ff6600"/>
<circle cx="2065.43" cy="1763.64" r="3.5" fill="#ff6700"/>
<circle cx="2069.16" cy="1766.82" r="3.5" fill="#ff6800"/>
<circle cx="2072.9" cy="1762.27" r="3.5" fill="#ff6900"/>
<circle cx="2076.63" cy="1750" r="3.5" fill="#ff6a00"/>
<circle cx="2080.36" cy="1736.82" r="3.5" fill="#ff6b00"/>
<circle cx="2084.09" cy="1724.55" r="3.5" fill="#ff6c00"/>
<circle cx="2087.82" cy="1704.09" r="3.5" fill="#ff6e00"/>
<circle cx="2091.56" cy="1686.36" r="3.5" fill="#ff6f00"/>
<circle cx="2095.29" cy="1678.64" r="3.5" fill="#ff7000"/>
<circle cx="2099.02" cy="1678.64" r="3.5" fill="#ff7100"/>
<circle cx="2102.75" cy="1680.91" r="3.5" fill="#ff7200"/>
<circle cx="2106.48" cy="1688.64" r="3.5" fill="#ff7300"/>
<circle cx="2110.22" cy="1698.18" r="3.5" fill="#ff7400"/>
<circle cx="2113.95" cy="1706.82" r="3.5" fill="#ff7500"/>
<circle cx="2117.68" cy="1714.55" r="3.5" fill="#ff7600"/>
<circle cx="2121.41" cy="1719.09" r="3.5" fill="#ff7700"/>
<circle cx="2125.14" cy="1702.73" r="3.5" fill="#ff7800"/>
<circle cx="2128.88" cy="1673.18" r="3.5" fill="#ff7900"/>
<circle cx="2132.61" cy="1628.18" r="3.5" fill="#ff7a00"/>
<circle cx="2136.34" cy="1574.09" r="3.5" fill="#ff7b00"/>
<circle cx="2140.07" cy="1535" r="3.5" fill="#ff7c00"/>
<circle cx="2143.8" cy="1515" r="3.5" fill="#ff7d00"/>
<circle cx="2147.54" cy="1519.55" r="3.5" fill="#ff7e00"/>
<circle cx="2151.27" cy="1538.64" r="3.5" fill="#ff7f00"/>
<circle cx="2155" cy="1567.27" r="3.5" fill="#ff8000"/>
<circle cx="2158.73" cy="1590.91" r="3.5" fill="#ff8100"/>
<circle cx="2162.46" cy="1602.27" r="3.5" fill="#ff8200"/>
<circle cx="2166.2" cy="1607.73" r="3.5" fill="#ff8300"/>
<circle cx="2169.93" cy="1611.36" r="3.5" fill="#ff8400"/>
<circle cx="2173.66" cy="1606.36" r="3.5" fill="#ff8500"/>
<circle cx="2177.39" cy="1592.73" r="3.5" fill="#ff8600"/>
<circle cx="2181.12" cy="1575.45" r="3.5" fill="#ff8700"/>
<circle cx="2184.86" cy="1567.27" r="3.5" fill="#ff8800"/>
<circle cx="2188.59" cy="1570" r="3.5" fill="#ff8900"/>
<circle cx="2192.32" cy="1594.55" r="3.5" fill="#ff8a00"/>
<circle cx="2196.05" cy="1621.36" r="3.5" fill="#ff8b00"/>
<circle cx="2199.78" cy="1642.27" r="3.5" fill="#ff8c00"/>
<circle cx="2203.52" cy="1659.55" r="3.5" fill="#ff8d00"/>
<circle cx="2207.25" cy="1676.36" r="3.5" fill="#ff8e00"/>
<circle cx="2210.98" cy="1691.36" r="3.5" fill="#ff8f00"/>
<circle cx="2214.71" cy="1701.36" r="3.5" fill="#ff9000"/>
<circle cx="2218.44" cy="1719.55" r="3.5" fill="#ff9100"/>
<circle cx="2222.18" cy="1741.82" r="3.5" fill="#ff9300"/>
<circle cx="2225.91" cy="1775" r="3.5" fill="#ff9400"/>
<circle cx="2229.64" cy="1815" r="3.5" fill="#ff9500"/>
<circle cx="2233.37" cy="1850" r="3.5" fill="#ff9600"/>
<circle cx="2237.1" cy="1883.18" r="3.5" fill="#ff9700"/>
<circle cx="2240.84" cy="1912.27" r="3.5" fill="#ff9800"/>
<circle cx="2244.57" cy="1933.18" r="3.5" fill="#ff9900"/>
<circle cx="2248.3" cy="1948.18" r="3.5" fill="#ff9a00"/>
<circle cx="2252.03" cy="1955" r="3.5" fill="#ff9b00"/>
<circle cx="2255.76" cy="1956.36" r="3.5" fill="#ff9c00"/>
<circle cx="2259.5" cy="1952.73" r="3.5" fill="#ff9d00"/>
<circle cx="2263.23" cy="1944.55" r="3.5" fill="#ff9e00"/>
<circle cx="2266.96" cy="1935" r="3.5" fill="#ff9f00"/>
<circle cx="2270.69" cy="1924.55" r="3.5" fill="#ffa000"/>
<circle cx="2274.42" cy="1915.91" r="3.5" fill="#ffa100"/>
<circle cx="2278.16" cy="1907.27" r="3.5" fill="#ffa200"/>
<circle cx="2281.89" cy="1896.36" r="3.5" fill="#ffa300"/>
<circle cx="2285.62" cy="1885" r="3.5" fill="#ffa400"/>
<circle cx="2289.35" cy="1875" r="3.5" fill="#ffa500"/>
<circle cx="2293.08" cy="1865" r="3.5" fill="#ffa600"/>
<circle cx="2296.82" cy="1855.45" r="3.5" fill="#ffa700"/>
<circle cx="2300.55" cy="1847.27" r="3.5" fill="#ffa800"/>
<circle cx="2304.28" cy="1840.45" r="3.5" fill="#ffa900"/>
<circle cx="2308.01" cy="1833.18" r="3.5" fill="#ffaa00"/>
<circle cx="2311.74" cy="1828.64" r="3.5" fill="#ffab00"/>
<circle cx="2315.48" cy="1825.91" r="3.5" fill="#ffac00"/>
<circle cx="2319.21" cy="1825" r="3.5" fill="#ffad00"/>
<circle cx="2322.94" cy="1819.67" r="3.5" fill="#ffae00"/>
<circle cx="2326.67" cy="1811" r="3.5" fill="#ffaf00"/>
<circle cx="2330.4" cy="1799.2" r="3.5" fill="#ffb000"/>
<circle cx="2334.14" cy="1786.02" r="3.5" fill="#ffb100"/>
<circle cx="2337.87" cy="1771.45" r="3.5" fill="#ffb200"/>
<circle cx="2341.6" cy="1756.53" r="3.5" fill="#ffb300"/>
<circle cx="2345.33" cy="1741.96" r="3.5" fill="#ffb400"/>
<circle cx="2349.06" cy="1732.59" r="3.5" fill="#ffb500"/>
<circle cx="2352.8" cy="1730.51" r="3.5" fill="#ffb600"/>
<circle cx="2356.53" cy="1731.2" r="3.5" fill="#ffb800"/>
<circle cx="2360.26" cy="1730.16" r="3.5" fill="#ffb900"/>
<circle cx="2363.99" cy="1728.78" r="3.5" fill="#ffba00"/>
<circle cx="2367.72" cy="1726.35" r="3.5" fill="#ffbb00"/>
<circle cx="2371.46" cy="1722.18" r="3.5" fill="#ffbc00"/>
<circle cx="2375.19" cy="1718.02" r="3.5" fill="#ffbd00"/>
<circle cx="2378.92" cy="1714.55" r="3.5" fill="#ffbe00"/>
<circle cx="2382.65" cy="1711.43" r="3.5" fill="#ffbf00"/>
<circle cx="2386.38" cy="1707.96" r="3.5" fill="#ffc000"/>
<circle cx="2390.12" cy="1703.8" r="3.5" fill="#ffc100"/>
<circle cx="2393.85" cy="1701.02" r="3.5" fill="#ffc200"/>
<circle cx="2397.58" cy="1700.33" r="3.5" fill="#ffc300"/>
<circle cx="2401.31" cy="1701.02" r="3.5" fill="#ffc400"/>
<circle cx="2405.04" cy="1702.06" r="3.5" fill="#ffc500"/>
<circle cx="2408.78" cy="1703.1" r="3.5" fill="#ffc600"/>
<circle cx="2412.51" cy="1703.1" r="3.5" fill="#ffc700"/>
<circle cx="2416.24" cy="1702.41" r="3.5" fill="#ffc800"/>
<circle cx="2419.97" cy="1702.06" r="3.5" fill="#ffc900"/>
<circle cx="2423.7" cy="1701.37" r="3.5" fill="#ffca00"/>
<circle cx="2427.44" cy="1701.37" r="3.5" fill="#ffcb00"/>
<circle cx="2431.17" cy="1701.71" r="3.5" fill="#ffcc00"/>
<circle cx="2434.9" cy="1702.06" r="3.5" fill="#ffcd00"/>
<circle cx="2438.63" cy="1702.06" r="3.5" fill="#ffce00"/>
<circle cx="2442.36" cy="1701.71" r="3.5" fill="#ffcf00"/>
<circle cx="2446.1" cy="1700.67" r="3.5" fill="#ffd000"/>
<circle cx="2449.83" cy="1698.24" r="3.5" fill="#ffd100"/>
<circle cx="2453.56" cy="1694.08" r="3.5" fill="#ffd200"/>
<circle cx="2457.29" cy="1688.88" r="3.5" fill="#ffd300"/>
<circle cx="2461.02" cy="1682.63" r="3.5" fill="#ffd400"/>
<circle cx="2464.76" cy="1677.43" r="3.5" fill="#ffd500"/>
<circle cx="2468.49" cy="1674.31" r="3.5" fill="#ffd600"/>
<circle cx="2472.22" cy="1672.92" r="3.5" fill="#ffd700"/>
<circle cx="2475.95" cy="1673.61" r="3.5" fill="#ffd800"/>
<circle cx="2479.68" cy="1674.65" r="3.5" fill="#ffd900"/>
<circle cx="2483.42" cy="1675.35" r="3.5" fill="#ffda00"/>
<circle cx="2487.15" cy="1675" r="3.5" fill="#ffdb00"/>
<circle cx="2490.88" cy="1673.61" r="3.5" fill="#ffdd00"/>
<circle cx="2494.61" cy="1671.18" r="3.5" fill="#ffde00"/>
<circle cx="2498.34" cy="1667.71" r="3.5" fill="#ffdf00"/>
<circle cx="2502.08" cy="1661.47" r="3.5" fill="#ffe000"/>
<circle cx="2505.81" cy="1655.22" r="3.5" fill="#ffe100"/>
<circle cx="2509.54" cy="1650.71" r="3.5" fill="#ffe200"/>
<circle cx="2513.27" cy="1648.98" r="3.5" fill="#ffe300"/>
<circle cx="2517" cy="1650.71" r="3.5" fill="#ffe400"/>
<circle cx="2520.74" cy="1656.61" r="3.5" fill="#ffe500"/>
<circle cx="2524.47" cy="1664.24" r="3.5" fill="#ffe600"/>
<circle cx="2528.2" cy="1670.49" r="3.5" fill="#ffe700"/>
<circle cx="2531.93" cy="1672.92" r="3.5" fill="#ffe800"/>
<circle cx="2535.66" cy="1673.27" r="3.5" fill="#ffe900"/>
<circle cx="2539.4" cy="1671.18" r="3.5" fill="#ffea00"/>
<circle cx="2543.13" cy="1667.37" r="3.5" fill="#ffeb00"/>
<circle cx="2546.86" cy="1663.9" r="3.5" fill="#ffec00"/>
<circle cx="2550.59" cy="1662.16" r="3.5" fill="#ffed00"/>
<circle cx="2554.32" cy="1662.86" r="3.5" fill="#ffee00"/>
<circle cx="2558.06" cy="1664.59" r="3.5" fill="#ffef00"/>
<circle cx="2561.79" cy="1666.33" r="3.5" fill="#fff000"/>
<circle cx="2565.52" cy="1668.06" r="3.5" fill="#fff100"/>
<circle cx="2569.25" cy="1669.45" r="3.5" fill="#fff200"/>
<circle cx="2572.98" cy="1670.14" r="3.5" fill="#fff300"/>
<circle cx="2576.72" cy="1670.14" r="3.5" fill="#fff400"/>
<circle cx="2580.45" cy="1669.1" r="3.5" fill="#fff500"/>
<circle cx="2584.18" cy="1666.33" r="3.5" fill="#fff600"/>
<circle cx="2587.91" cy="1662.86" r="3.5" fill="#fff700"/>
<circle cx="2591.64" cy="1659.73" r="3.5" fill="#fff800"/>
<circle cx="2595.38" cy="1657.31" r="3.5" fill="#fff900"/>
<circle cx="2599.11" cy="1656.61" r="3.5" fill="#fffa00"/>
<circle cx="2602.84" cy="1656.96" r="3.5" fill="#fffb00"/>
<circle cx="2606.57" cy="1657.65" r="3.5" fill="#fffc00"/>
<circle cx="2610.3" cy="1660.43" r="3.5" fill="#fffd00"/>
<circle cx="2614.04" cy="1663.2" r="3.5" fill="#fffe00"/>
<circle cx="2617.77" cy="1665.29" r="3.5" fill="#ffff00"/>
</g>
<g clip-path="url(#c4)">
<circle cx="1688.5" cy="1768.22" r="3.5" fill="#8000ff"/>
<circle cx="1692.23" cy="1753.98" r="3.5" fill="#7e03ff"/>
<circle cx="1695.96" cy="1721.74" r="3.5" fill="#7c06ff"/>
<circle cx="1699.7" cy="1650.55" r="3.5" fill="#7a09ff"/>
<circle cx="1703.43" cy="1509.42" r="3.5" fill="#780dff"/>
<circle cx="1707.16" cy="1346.09" r="3.5" fill="#7610ff"/>
<circle cx="1710.89" cy="1240.14" r="3.5" fill="#7413ff"/>
<circle cx="1714.62" cy="1215.01" r="3.5" fill="#7216ff"/>
<circle cx="1718.36" cy="1204.54" r="3.5" fill="#7019ff"/>
<circle cx="1722.09" cy="1197.42" r="3.5" fill="#6e1cff"/>
<circle cx="1725.82" cy="1191.98" r="3.5" fill="#6c1fff"/>
<circle cx="1729.55" cy="1196.17" r="3.5" fill="#6a22fe"/>
<circle cx="1733.28" cy="1222.13" r="3.5" fill="#6826fe"/>
<circle cx="1737.02" cy="1227.99" r="3.5" fill="#6629fe"/>
<circle cx="1740.75" cy="1210.41" r="3.5" fill="#642cfe"/>
<circle cx="1744.48" cy="1181.09" r="3.5" fill="#622ffe"/>
<circle cx="1748.21" cy="1157.22" r="3.5" fill="#6032fe"/>
<circle cx="1751.94" cy="1156.8" r="3.5" fill="#5e35fe"/>
<circle cx="1755.68" cy="1202.03" r="3.5" fill="#5c38fd"/>
<circle cx="1759.41" cy="1263.59" r="3.5" fill="#5a3bfd"/>
<circle cx="1763.14" cy="1329.34" r="3.5" fill="#583efd"/>
<circle cx="1766.87" cy="1358.24" r="3.5" fill="#5641fd"/>
<circle cx="1770.6" cy="1357.82" r="3.5" fill="#5444fd"/>
<circle cx="1774.34" cy="1350.7" r="3.5" fill="#5247fc"/>
<circle cx="1778.07" cy="1354.05" r="3.5" fill="#504afc"/>
<circle cx="1781.8" cy="1381.69" r="3.5" fill="#4e4dfc"/>
<circle cx="1785.53" cy="1432.36" r="3.5" fill="#4c50fc"/>
<circle cx="1789.26" cy="1480.1" r="3.5" fill="#4a53fb"/>
<circle cx="1793" cy="1511.93" r="3.5" fill="#4856fb"/>
<circle cx="1796.73" cy="1542.92" r="3.5" fill="#4659fb"/>
<circle cx="1800.46" cy="1580.19" r="3.5" fill="#445cfb"/>
<circle cx="1804.19" cy="1619.14" r="3.5" fill="#425ffa"/>
<circle cx="1807.92" cy="1657.66" r="3.5" fill="#4062fa"/>
<circle cx="1811.66" cy="1679.44" r="3.5" fill="#3e65fa"/>
<circle cx="1815.39" cy="1681.95" r="3.5" fill="#3c68f9"/>
<circle cx="1819.12" cy="1665.62" r="3.5" fill="#396bf9"/>
<circle cx="1822.85" cy="1635.05" r="3.5" fill="#3670f8"/>
<circle cx="1826.58" cy="1601.13" r="3.5" fill="#3473f8"/>
<circle cx="1830.32" cy="1552.97" r="3.5" fill="#3176f8"/>
<circle cx="1834.05" cy="1503.97" r="3.5" fill="#3079f7"/>
<circle cx="1837.78" cy="1473.4" r="3.5" fill="#2e7bf7"/>
<circle cx="1841.51" cy="1463.35" r="3.5" fill="#2c7ef7"/>
<circle cx="1845.24" cy="1478.85" r="3.5" fill="#2981f6"/>
<circle cx="1848.98" cy="1504.39" r="3.5" fill="#2884f6"/>
<circle cx="1852.71" cy="1539.57" r="3.5" fill="#2686f5"/>
<circle cx="1856.44" cy="1587.31" r="3.5" fill="#2489f5"/>
<circle cx="1860.17" cy="1630.03" r="3.5" fill="#218cf4"/>
<circle cx="1863.9" cy="1647.2" r="3.5" fill="#208ef4"/>
<circle cx="1867.64" cy="1641.33" r="3.5" fill="#1e91f3"/>
<circle cx="1871.37" cy="1621.65" r="3.5" fill="#1c93f3"/>
<circle cx="1875.1" cy="1596.52" r="3.5" fill="#1996f3"/>
<circle cx="1878.83" cy="1557.58" r="3.5" fill="#1898f2"/>
<circle cx="1882.56" cy="1514.86" r="3.5" fill="#169bf2"/>
<circle cx="1886.3" cy="1494.76" r="3.5" fill="#149df1"/>
<circle cx="1890.03" cy="1494.76" r="3.5" fill="#11a0f1"/>
<circle cx="1893.76" cy="1508.16" r="3.5" fill="#10a2f0"/>
<circle cx="1897.49" cy="1531.19" r="3.5" fill="#0ea5ef"/>
<circle cx="1901.22" cy="1557.58" r="3.5" fill="#0ca7ef"/>
<circle cx="1904.96" cy="1574.75" r="3.5" fill="#09a9ee"/>
<circle cx="1908.69" cy="1574.75" r="3.5" fill="#08acee"/>
<circle cx="1912.42" cy="1564.28" r="3.5" fill="#06aeed"/>
<circle cx="1916.15" cy="1550.04" r="3.5" fill="#04b0ed"/>
<circle cx="1919.88" cy="1540.41" r="3.5" fill="#01b3ec"/>
<circle cx="1923.62" cy="1533.71" r="3.5" fill="#00b5eb"/>
<circle cx="1927.35" cy="1532.03" r="3.5" fill="#02b7eb"/>
<circle cx="1931.08" cy="1534.54" r="3.5" fill="#04b9ea"/>
<circle cx="1934.81" cy="1539.57" r="3.5" fill="#07bbea"/>
<circle cx="1938.54" cy="1550.04" r="3.5" fill="#08bee9"/>
<circle cx="1942.28" cy="1557.99" r="3.5" fill="#0ac0e8"/>
<circle cx="1946.01" cy="1553.81" r="3.5" fill="#0dc2e8"/>
<circle cx="1949.74" cy="1542.92" r="3.5" fill="#0fc4e7"/>
<circle cx="1953.47" cy="1527.01" r="3.5" fill="#12c8e6"/>
<circle cx="1957.2" cy="1510.25" r="3.5" fill="#14cae5"/>
<circle cx="1960.94" cy="1507.74" r="3.5" fill="#17cbe4"/>
<circle cx="1964.67" cy="1523.65" r="3.5" fill="#18cde4"/>
<circle cx="1968.4" cy="1549.2" r="3.5" fill="#1acfe3"/>
<circle cx="1972.13" cy="1578.93" r="3.5" fill="#1dd1e2"/>
<circle cx="1975.86" cy="1599.87" r="3.5" fill="#1fd3e1"/>
<circle cx="1979.6" cy="1607.83" r="3.5" fill="#20d5e1"/>
<circle cx="1983.33" cy="1605.91" r="3.5" fill="#22d6e0"/>
<circle cx="1987.06" cy="1595.45" r="3.5" fill="#24d8df"/>
<circle cx="1990.79" cy="1588.64" r="3.5" fill="#27dade"/>
<circle cx="1994.52" cy="1581.82" r="3.5" fill="#28dbde"/>
<circle cx="1998.26" cy="1574.09" r="3.5" fill="#2adddd"/>
<circle cx="2001.99" cy="1566.82" r="3.5" fill="#2ddedc"/>
<circle cx="2005.72" cy="1559.09" r="3.5" fill="#2fe0db"/>
<circle cx="2009.45" cy="1550.45" r="3.5" fill="#30e1da"/>
<circle cx="2013.18" cy="1542.73" r="3.5" fill="#32e3da"/>
<circle cx="2016.92" cy="1532.73" r="3.5" fill="#34e4d9"/>
<circle cx="2020.65" cy="1531.36" r="3.5" fill="#37e6d8"/>
<circle cx="2024.38" cy="1530.91" r="3.5" fill="#38e7d7"/>
<circle cx="2028.11" cy="1525.91" r="3.5" fill="#3ae8d6"/>
<circle cx="2031.84" cy="1515.91" r="3.5" fill="#3dead5"/>
<circle cx="2035.58" cy="1500" r="3.5" fill="#3febd5"/>
<circle cx="2039.31" cy="1475" r="3.5" fill="#40ecd4"/>
<circle cx="2043.04" cy="1436.36" r="3.5" fill="#42edd3"/>
<circle cx="2046.77" cy="1426.36" r="3.5" fill="#44eed2"/>
<circle cx="2050.5" cy="1454.09" r="3.5" fill="#46efd1"/>
<circle cx="2054.24" cy="1492.73" r="3.5" fill="#48f1d0"/>
<circle cx="2057.97" cy="1531.82" r="3.5" fill="#4af2cf"/>
<circle cx="2061.7" cy="1560.91" r="3.5" fill="#4df3ce"/>
<circle cx="2065.43" cy="1578.18" r="3.5" fill="#4ef3cd"/>
<circle cx="2069.16" cy="1584.09" r="3.5" fill="#50f4cc"/>
<circle cx="2072.9" cy="1580.91" r="3.5" fill="#52f5cb"/>
<circle cx="2076.63" cy="1570" r="3.5" fill="#54f6cb"/>
<circle cx="2080.36" cy="1555.91" r="3.5" fill="#56f7ca"/>
<circle cx="2084.09" cy="1543.64" r="3.5" fill="#58f8c9"/>
<circle cx="2087.82" cy="1523.18" r="3.5" fill="#5df9c7"/>
<circle cx="2091.56" cy="1505.45" r="3.5" fill="#5efac6"/>
<circle cx="2095.29" cy="1497.27" r="3.5" fill="#60fac5"/>
<circle cx="2099.02" cy="1496.82" r="3.5" fill="#62fbc4"/>
<circle cx="2102.75" cy="1498.18" r="3.5" fill="#64fbc3"/>
<circle cx="2106.48" cy="1504.55" r="3.5" fill="#66fcc2"/>
<circle cx="2110.22" cy="1513.64" r="3.5" fill="#68fcc1"/>
<circle cx="2113.95" cy="1521.82" r="3.5" fill="#6afdc0"/>
<circle cx="2117.68" cy="1530" r="3.5" fill="#6dfdbf"/>
<circle cx="2121.41" cy="1535" r="3.5" fill="#6efebe"/>
<circle cx="2125.14" cy="1518.64" r="3.5" fill="#70febc"/>
<circle cx="2128.88" cy="1489.55" r="3.5" fill="#72febb"/>
<circle cx="2132.61" cy="1444.09" r="3.5" fill="#74feba"/>
<circle cx="2136.34" cy="1390" r="3.5" fill="#76ffb9"/>
<circle cx="2140.07" cy="1350" r="3.5" fill="#78ffb8"/>
<circle cx="2143.8" cy="1330" r="3.5" fill="#7affb7"/>
<circle cx="2147.54" cy="1330.91" r="3.5" fill="#7dffb6"/>
<circle cx="2151.27" cy="1344.09" r="3.5" fill="#7effb5"/>
<circle cx="2155" cy="1366.36" r="3.5" fill="#80ffb4"/>
<circle cx="2158.73" cy="1385" r="3.5" fill="#82ffb3"/>
<circle cx="2162.46" cy="1394.09" r="3.5" fill="#84ffb2"/>
<circle cx="2166.2" cy="1398.64" r="3.5" fill="#86ffb0"/>
<circle cx="2169.93" cy="1405.91" r="3.5" fill="#88ffaf"/>
<circle cx="2173.66" cy="1407.73" r="3.5" fill="#8bfeae"/>
<circle cx="2177.39" cy="1401.82" r="3.5" fill="#8cfead"/>
<circle cx="2181.12" cy="1388.64" r="3.5" fill="#8efeac"/>
<circle cx="2184.86" cy="1382.73" r="3.5" fill="#90feab"/>
<circle cx="2188.59" cy="1385.45" r="3.5" fill="#92fda9"/>
<circle cx="2192.32" cy="1410" r="3.5" fill="#94fda8"/>
<circle cx="2196.05" cy="1436.82" r="3.5" fill="#96fca7"/>
<circle cx="2199.78" cy="1458.18" r="3.5" fill="#99fca6"/>
<circle cx="2203.52" cy="1475.45" r="3.5" fill="#9bfba5"/>
<circle cx="2207.25" cy="1492.73" r="3.5" fill="#9cfba4"/>
<circle cx="2210.98" cy="1507.73" r="3.5" fill="#9efaa2"/>
<circle cx="2214.71" cy="1517.73" r="3.5" fill="#a0faa1"/>
<circle cx="2218.44" cy="1536.36" r="3.5" fill="#a2f9a0"/>
<circle cx="2222.18" cy="1561.36" r="3.5" fill="#a6f89d"/>
<circle cx="2225.91" cy="1596.82" r="3.5" fill="#a8f79c"/>
<circle cx="2229.64" cy="1636.36" r="3.5" fill="#abf69b"/>
<circle cx="2233.37" cy="1666.82" r="3.5" fill="#acf59a"/>
<circle cx="2237.1" cy="1692.27" r="3.5" fill="#aef498"/>
<circle cx="2240.84" cy="1710" r="3.5" fill="#b0f397"/>
<circle cx="2244.57" cy="1718.18" r="3.5" fill="#b2f396"/>
<circle cx="2248.3" cy="1717.73" r="3.5" fill="#b4f295"/>
<circle cx="2252.03" cy="1709.09" r="3.5" fill="#b6f193"/>
<circle cx="2255.76" cy="1695.45" r="3.5" fill="#b9ef92"/>
<circle cx="2259.5" cy="1677.73" r="3.5" fill="#bbee91"/>
<circle cx="2263.23" cy="1659.09" r="3.5" fill="#bced8f"/>
<circle cx="2266.96" cy="1642.27" r="3.5" fill="#beec8e"/>
<circle cx="2270.69" cy="1628.18" r="3.5" fill="#c0eb8d"/>
<circle cx="2274.42" cy="1620" r="3.5" fill="#c2ea8c"/>
<circle cx="2278.16" cy="1612.73" r="3.5" fill="#c4e88a"/>
<circle cx="2281.89" cy="1601.36" r="3.5" fill="#c6e789"/>
<circle cx="2285.62" cy="1586.82" r="3.5" fill="#c8e688"/>
<circle cx="2289.35" cy="1575" r="3.5" fill="#cbe486"/>
<circle cx="2293.08" cy="1570" r="3.5" fill="#cce385"/>
<circle cx="2296.82" cy="1567.27" r="3.5" fill="#cee184"/>
<circle cx="2300.55" cy="1565.45" r="3.5" fill="#d0e082"/>
<circle cx="2304.28" cy="1563.18" r="3.5" fill="#d2de81"/>
<circle cx="2308.01" cy="1560.45" r="3.5" fill="#d4dd80"/>
<circle cx="2311.74" cy="1555.45" r="3.5" fill="#d6db7e"/>
<circle cx="2315.48" cy="1547.73" r="3.5" fill="#d9da7d"/>
<circle cx="2319.21" cy="1539.55" r="3.5" fill="#dbd87b"/>
<circle cx="2322.94" cy="1537.27" r="3.5" fill="#dcd67a"/>
<circle cx="2326.67" cy="1527.2" r="3.5" fill="#ded579"/>
<circle cx="2330.4" cy="1510.2" r="3.5" fill="#e0d377"/>
<circle cx="2334.14" cy="1488" r="3.5" fill="#e2d176"/>
<circle cx="2337.87" cy="1459.9" r="3.5" fill="#e4cf74"/>
<circle cx="2341.6" cy="1425.55" r="3.5" fill="#e6cd73"/>
<circle cx="2345.33" cy="1391.2" r="3.5" fill="#e8cb72"/>
<circle cx="2349.06" cy="1363.45" r="3.5" fill="#ebca70"/>
<circle cx="2352.8" cy="1343.67" r="3.5" fill="#ecc86f"/>
<circle cx="2356.53" cy="1332.57" r="3.5" fill="#f0c46c"/>
<circle cx="2360.26" cy="1320.78" r="3.5" fill="#f2c26b"/>
<circle cx="2363.99" cy="1310.02" r="3.5" fill="#f4c069"/>
<circle cx="2367.72" cy="1299.96" r="3.5" fill="#f6be68"/>
<circle cx="2371.46" cy="1294.76" r="3.5" fill="#f9bb66"/>
<circle cx="2375.19" cy="1302.04" r="3.5" fill="#fbb965"/>
<circle cx="2378.92" cy="1310.37" r="3.5" fill="#fcb763"/>
<circle cx="2382.65" cy="1318" r="3.5" fill="#feb562"/>
<circle cx="2386.38" cy="1322.16" r="3.5" fill="#ffb360"/>
<circle cx="2390.12" cy="1319.39" r="3.5" fill="#ffb05f"/>
<circle cx="2393.85" cy="1312.1" r="3.5" fill="#ffae5e"/>
<circle cx="2397.58" cy="1293.37" r="3.5" fill="#ffac5c"/>
<circle cx="2401.31" cy="1280.18" r="3.5" fill="#ffa95b"/>
<circle cx="2405.04" cy="1282.27" r="3.5" fill="#ffa759"/>
<circle cx="2408.78" cy="1294.06" r="3.5" fill="#ffa558"/>
<circle cx="2412.51" cy="1312.45" r="3.5" fill="#ffa256"/>
<circle cx="2416.24" cy="1327.37" r="3.5" fill="#ffa055"/>
<circle cx="2419.97" cy="1336.39" r="3.5" fill="#ff9d53"/>
<circle cx="2423.7" cy="1345.76" r="3.5" fill="#ff9b52"/>
<circle cx="2427.44" cy="1354.08" r="3.5" fill="#ff9850"/>
<circle cx="2431.17" cy="1363.45" r="3.5" fill="#ff964f"/>
<circle cx="2434.9" cy="1374.9" r="3.5" fill="#ff934d"/>
<circle cx="2438.63" cy="1380.8" r="3.5" fill="#ff914c"/>
<circle cx="2442.36" cy="1388.43" r="3.5" fill="#ff8e4a"/>
<circle cx="2446.1" cy="1390.16" r="3.5" fill="#ff8c49"/>
<circle cx="2449.83" cy="1386" r="3.5" fill="#ff8947"/>
<circle cx="2453.56" cy="1385.31" r="3.5" fill="#ff8646"/>
<circle cx="2457.29" cy="1387.73" r="3.5" fill="#ff8444"/>
<circle cx="2461.02" cy="1386" r="3.5" fill="#ff8143"/>
<circle cx="2464.76" cy="1383.57" r="3.5" fill="#ff7e41"/>
<circle cx="2468.49" cy="1392.59" r="3.5" fill="#ff7b40"/>
<circle cx="2472.22" cy="1399.18" r="3.5" fill="#ff793e"/>
<circle cx="2475.95" cy="1400.92" r="3.5" fill="#ff763d"/>
<circle cx="2479.68" cy="1391.9" r="3.5" fill="#ff733b"/>
<circle cx="2483.42" cy="1375.24" r="3.5" fill="#ff703a"/>
<circle cx="2487.15" cy="1364.84" r="3.5" fill="#ff6d38"/>
<circle cx="2490.88" cy="1358.59" r="3.5" fill="#ff6835"/>
<circle cx="2494.61" cy="1356.86" r="3.5" fill="#ff6533"/>
<circle cx="2498.34" cy="1355.12" r="3.5" fill="#ff6232"/>
<circle cx="2502.08" cy="1353.73" r="3.5" fill="#ff5f30"/>
<circle cx="2505.81" cy="1350.27" r="3.5" fill="#ff5c2f"/>
<circle cx="2509.54" cy="1346.45" r="3.5" fill="#ff592d"/>
<circle cx="2513.27" cy="1345.76" r="3.5" fill="#ff562c"/>
<circle cx="2517" cy="1348.18" r="3.5" fill="#ff532a"/>
<circle cx="2520.74" cy="1357.9" r="3.5" fill="#ff5029"/>
<circle cx="2524.47" cy="1368.31" r="3.5" fill="#ff4d27"/>
<circle cx="2528.2" cy="1371.78" r="3.5" fill="#ff4a26"/>
<circle cx="2531.93" cy="1368.65" r="3.5" fill="#ff4724"/>
<circle cx="2535.66" cy="1366.57" r="3.5" fill="#ff4422"/>
<circle cx="2539.4" cy="1370.04" r="3.5" fill="#ff4121"/>
<circle cx="2543.13" cy="1372.47" r="3.5" fill="#ff3e1f"/>
<circle cx="2546.86" cy="1374.2" r="3.5" fill="#ff3b1e"/>
<circle cx="2550.59" cy="1374.55" r="3.5" fill="#ff381c"/>
<circle cx="2554.32" cy="1374.9" r="3.5" fill="#ff351b"/>
<circle cx="2558.06" cy="1371.78" r="3.5" fill="#ff3219"/>
<circle cx="2561.79" cy="1363.8" r="3.5" fill="#ff2f18"/>
<circle cx="2565.52" cy="1353.39" r="3.5" fill="#ff2c16"/>
<circle cx="2569.25" cy="1345.41" r="3.5" fill="#ff2914"/>
<circle cx="2572.98" cy="1349.92" r="3.5" fill="#ff2613"/>
<circle cx="2576.72" cy="1360.33" r="3.5" fill="#ff2211"/>
<circle cx="2580.45" cy="1371.43" r="3.5" fill="#ff1f10"/>
<circle cx="2584.18" cy="1381.84" r="3.5" fill="#ff1c0e"/>
<circle cx="2587.91" cy="1388.43" r="3.5" fill="#ff190d"/>
<circle cx="2591.64" cy="1390.16" r="3.5" fill="#ff160b"/>
<circle cx="2595.38" cy="1385.65" r="3.5" fill="#ff1309"/>
<circle cx="2599.11" cy="1377.33" r="3.5" fill="#ff1008"/>
<circle cx="2602.84" cy="1374.9" r="3.5" fill="#ff0d06"/>
<circle cx="2606.57" cy="1373.86" r="3.5" fill="#ff0905"/>
<circle cx="2610.3" cy="1366.57" r="3.5" fill="#ff0603"/>
<circle cx="2614.04" cy="1364.14" r="3.5" fill="#ff0302"/>
<circle cx="2617.77" cy="1361.02" r="3.5" fill="#ff0000"/>
</g>
<g stroke="#000" stroke-width="1.78" stroke-dasharray="1.78 2.93" fill="none">
<path d="M1679 2002V1112"/>
<path d="M1836 2002V1112"/>
<path d="M1993 2002V1112"/>
<path d="M2150 2002V1112"/>
<path d="M2307 2002V1112"/>
<path d="M2464 2002V1112"/>
<path d="M2621 2002V1112"/>
<path d="M1679 1970H2621"/>
<path d="M1679 1772H2621"/>
<path d="M1679 1574H2621"/>
<path d="M1679 1377H2621"/>
<path d="M1679 1179H2621"/>
</g>
<g stroke="#000" stroke-width="1.78" fill="none">
<path d="M1679 2002v7.78"/>
<path d="M1836 2002v7.78"/>
<path d="M1993 2002v7.78"/>
<path d="M2150 2002v7.78"/>
<path d="M2307 2002v7.78"/>
<path d="M2464 2002v7.78"/>
<path d="M2621 2002v7.78"/>
<path d="M1679 1970h-7.78"/>
<path d="M1679 1772h-7.78"/>
<path d="M1679 1574h-7.78"/>
<path d="M1679 1377h-7.78"/>
<path d="M1679 1179h-7.78"/>
<rect x="1679" y="1112" width="942" height="890"/>
</g>
<g font-size="55.56" text-anchor="middle">
<text x="1679" y="2059.78" textLength="35">0</text>
<text x="1836" y="2059.78" textLength="70">50</text>
<text x="1993" y="2059.78" textLength="105">100</text>
<text x="2150" y="2059.78" textLength="105">150</text>
<text x="2307" y="2059.78" textLength="105">200</text>
<text x="2464" y="2059.78" textLength="105">250</text>
<text x="2621" y="2059.78" textLength="105">300</text>
</g>
<g font-size="55.56" text-anchor="end">
<text x="1663.94" y="1990.81" textLength="169">−0.05</text>
<text x="1663.94" y="1793.11" textLength="123">0.00</text>
<text x="1663.94" y="1595.41" textLength="123">0.05</text>
<text x="1663.94" y="1397.71" textLength="123">0.10</text>
<text x="1663.94" y="1200.01" textLength="123">0.15</text>
</g>
<rect x="2626" y="1112" width="45" height="890" fill="url(#rb)" stroke="#000" stroke-width="1.78"/>
<g stroke="#000" stroke-width="1.78"><path d="M2671 1112h7.78"/><path d="M2671 1561h7.78"/></g>
<g font-size="40"><text x="2687.86" y="1126.8" textLength="113">299.0</text><text x="2687.86" y="1576.31" textLength="113">149.5</text></g>
<g transform="translate(591 1056.2)">
<text><tspan x="-3" y="-0" font-size="55.56" font-style="oblique">x </tspan><tspan x="70.89" y="-0" font-size="55.56" font-style="normal">[</tspan><tspan x="96.94" y="-0" font-size="55.56" font-style="oblique">μ </tspan><tspan x="150.27" y="-0" font-size="55.56" font-style="oblique">m</tspan><tspan x="208.14" y="-0" font-size="55.56" font-style="normal">]</tspan></text>
</g>
<g transform="translate(2077.6 1055.2)">
<text><tspan x="0" y="-0" font-size="55.56" font-style="oblique">v</tspan><tspan x="32.84" y="9.19" font-size="38.89" font-style="oblique">x </tspan><tspan x="75.39" y="-0" font-size="55.56" font-style="normal">[</tspan><tspan x="97.04" y="-0" font-size="55.56" font-style="oblique">c</tspan><tspan x="127.56" y="-0" font-size="55.56" font-style="normal">]</tspan></text>
</g>
<g transform="translate(616.4 2124.2)">
<text><tspan x="0.7" y="-0" font-size="55.56" font-style="oblique">r </tspan><tspan x="40.84" y="-0" font-size="55.56" font-style="normal">[</tspan><tspan x="62.49" y="-0" font-size="55.56" font-style="oblique">μ</tspan><tspan x="97.8" y="-0" font-size="55.56" font-style="oblique">m</tspan><tspan x="151.87" y="-0" font-size="55.56" font-style="normal">]</tspan></text>
</g>
<g transform="translate(2080.7 2123.2)">
<text><tspan x="0" y="-0" font-size="55.56" font-style="oblique">t </tspan><tspan x="39.78" y="-0" font-size="55.56" font-style="normal">[</tspan><tspan x="61.43" y="-0" font-size="55.56" font-style="oblique">T</tspan><tspan x="95.34" y="9.19" font-size="38.89" font-style="normal">0</tspan><tspan x="121.59" y="-0" font-size="55.56" font-style="normal">]</tspan></text>
</g>
<g transform="translate(39.5 599) rotate(-90)">
<text><tspan x="-3.6" y="-0" font-size="55.56" font-style="oblique">y </tspan><tspan x="69.39" y="-0" font-size="55.56" font-style="normal">[</tspan><tspan x="95.14" y="-0" font-size="55.56" font-style="oblique">μ </tspan><tspan x="149.27" y="-0" font-size="55.56" font-style="oblique">m</tspan><tspan x="206.54" y="-0" font-size="55.56" font-style="normal">]</tspan></text>
</g>
<g transform="translate(1464.8 562.4) rotate(-90)">
<text><tspan x="0" y="-0" font-size="55.56" font-style="oblique">v</tspan><tspan x="32.84" y="9.19" font-size="38.89" font-style="oblique">y </tspan><tspan x="75.39" y="-0" font-size="55.56" font-style="normal">[</tspan><tspan x="97.04" y="-0" font-size="55.56" font-style="oblique">c</tspan><tspan x="127.56" y="-0" font-size="55.56" font-style="normal">]</tspan></text>
</g>
<g transform="translate(23.7 1628) rotate(-90)">
<text><tspan x="0" y="-0" font-size="55.56" font-style="oblique">v</tspan><tspan x="32.84" y="9.19" font-size="38.89" font-style="oblique">r </tspan><tspan x="68.37" y="-0" font-size="55.56" font-style="normal">[</tspan><tspan x="90.02" y="-0" font-size="55.56" font-style="oblique">c</tspan><tspan x="120.54" y="-0" font-size="55.56" font-style="normal">]</tspan></text>
</g>
<g transform="translate(1472.3 1726.1) rotate(-90)">
<text><tspan x="0" y="-0" font-size="55.56" font-style="oblique">E</tspan><tspan x="35.07" y="-0" font-size="55.56" font-style="oblique">k </tspan><tspan x="85.23" y="-0" font-size="55.56" font-style="oblique">W </tspan><tspan x="158.13" y="-0" font-size="55.56" font-style="normal">[</tspan><tspan x="179.78" y="-0" font-size="55.56" font-style="oblique">m</tspan><tspan x="233.84" y="9.19" font-size="38.89" font-style="oblique">e</tspan><tspan x="259.28" y="-0" font-size="55.56" font-style="oblique">c</tspan><tspan x="292.39" y="-21.44" font-size="38.89" font-style="normal">2</tspan><tspan x="318.64" y="-0" font-size="55.56" font-style="normal">]</tspan></text>
</g>
<g transform="translate(1404 559.5) rotate(-90)">
<text><tspan x="0" y="-0" font-size="55.56" font-style="oblique">t </tspan><tspan x="39.78" y="-0" font-size="55.56" font-style="normal">[</tspan><tspan x="61.43" y="-0" font-size="55.56" font-style="oblique">T</tspan><tspan x="95.34" y="9.19" font-size="38.89" font-style="normal">0</tspan><tspan x="121.59" y="-0" font-size="55.56" font-style="normal">]</tspan></text>
</g>
<g transform="translate(2852.7 559.6) rotate(-90)">
<text><tspan x="0" y="-0" font-size="55.56" font-style="oblique">t </tspan><tspan x="39.78" y="-0" font-size="55.56" font-style="normal">[</tspan><tspan x="61.43" y="-0" font-size="55.56" font-style="oblique">T</tspan><tspan x="95.34" y="9.19" font-size="38.89" font-style="normal">0</tspan><tspan x="121.59" y="-0" font-size="55.56" font-style="normal">]</tspan></text>
</g>
<g transform="translate(1404 1627.5) rotate(-90)">
<text><tspan x="0" y="-0" font-size="55.56" font-style="oblique">t </tspan><tspan x="39.78" y="-0" font-size="55.56" font-style="normal">[</tspan><tspan x="61.43" y="-0" font-size="55.56" font-style="oblique">T</tspan><tspan x="95.34" y="9.19" font-size="38.89" font-style="normal">0</tspan><tspan x="121.59" y="-0" font-size="55.56" font-style="normal">]</tspan></text>
</g>
<g transform="translate(2852.7 1627.6) rotate(-90)">
<text><tspan x="0" y="-0" font-size="55.56" font-style="oblique">t </tspan><tspan x="39.78" y="-0" font-size="55.56" font-style="normal">[</tspan><tspan x="61.43" y="-0" font-size="55.56" font-style="oblique">T</tspan><tspan x="95.34" y="9.19" font-size="38.89" font-style="normal">0</tspan><tspan x="121.59" y="-0" font-size="55.56" font-style="normal">]</tspan></text>
</g>
</svg></body></html>
